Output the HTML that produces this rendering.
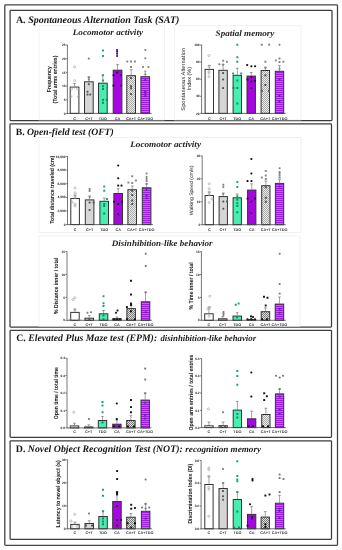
<!DOCTYPE html>
<html><head><meta charset="utf-8"><style>html,body{margin:0;padding:0;background:#fff;width:342px;height:550px;overflow:hidden}svg{display:block;will-change:transform;text-rendering:geometricPrecision}</style></head><body>
<svg width="342" height="550" viewBox="0 0 342 550">
<defs>
<pattern id="hatch" patternUnits="userSpaceOnUse" width="2" height="2">
<rect width="2" height="2" fill="#ececec"/><path d="M-0.5 -0.5L2.5 2.5M-0.5 1.5L0.5 2.5M1.5 -0.5L2.5 0.5" stroke="#7a7a7a" stroke-width="0.6"/></pattern>
<pattern id="hatch2" patternUnits="userSpaceOnUse" width="2" height="2">
<rect width="2" height="2" fill="#e0e0e0"/><path d="M-0.5 -0.5L2.5 2.5M-0.5 1.5L0.5 2.5M1.5 -0.5L2.5 0.5" stroke="#4a4a4a" stroke-width="0.7"/></pattern>
<pattern id="stripe" patternUnits="userSpaceOnUse" width="4" height="2">
<rect width="4" height="2" fill="#6e8ee0"/><rect width="4" height="1" fill="#a01ee2"/></pattern>
</defs>
<rect width="342" height="550" fill="#fff"/>
<rect x="4.8" y="4.9" width="332.7" height="540.4" rx="0.8" fill="none" stroke="#464646" stroke-width="1.3"/>
<rect x="10.1" y="10.3" width="321.90" height="110.30" rx="0.8" fill="none" stroke="#3c3c3c" stroke-width="1.25"/>
<rect x="10.0" y="123.9" width="321.50" height="203.20" rx="0.8" fill="none" stroke="#3c3c3c" stroke-width="1.25"/>
<rect x="10.1" y="330.3" width="321.40" height="107.00" rx="0.8" fill="none" stroke="#3c3c3c" stroke-width="1.25"/>
<rect x="10.1" y="440.8" width="321.40" height="98.50" rx="0.8" fill="none" stroke="#3c3c3c" stroke-width="1.25"/>
<rect x="39.1" y="25.8" width="125.40" height="94.20" fill="none" stroke="#e8e8e8" stroke-width="0.6"/>
<rect x="174.2" y="25.8" width="126.80" height="94.20" fill="none" stroke="#e8e8e8" stroke-width="0.6"/>
<rect x="39.0" y="137.3" width="262.00" height="95.20" fill="none" stroke="#e8e8e8" stroke-width="0.6"/>
<rect x="39.0" y="236.0" width="261.00" height="90.50" fill="none" stroke="#e8e8e8" stroke-width="0.6"/>
<text x="15.9" y="23.4" font-family='"Liberation Serif", serif' font-size="10" fill="#161616"><tspan font-weight="bold">A. </tspan><tspan font-weight="bold" font-style="italic">Spontaneous Alternation Task (SAT)</tspan></text>
<text x="15.8" y="134.6" font-family='"Liberation Serif", serif' font-size="9.7" fill="#161616"><tspan font-weight="bold">B. </tspan><tspan font-weight="bold" font-style="italic">Open-field test (OFT)</tspan></text>
<text x="16.2" y="341.3" font-family='"Liberation Serif", serif' font-size="9.8" fill="#161616"><tspan font-weight="bold">C. </tspan><tspan font-weight="bold" font-style="italic">Elevated Plus Maze test (EPM):</tspan></text>
<text x="160.40" y="341.30" font-size="8.8" font-family='"Liberation Serif", serif' font-weight="bold" font-style="italic" text-anchor="start" fill="#1c1c1c" textLength="95.70" lengthAdjust="spacingAndGlyphs" >disinhibition-like behavior</text>
<text x="15.8" y="451.7" font-family='"Liberation Serif", serif' font-size="9.85" fill="#161616"><tspan font-weight="bold">D. </tspan><tspan font-weight="bold" font-style="italic">Novel Object Recognition Test (NOT):</tspan></text>
<text x="185.30" y="451.70" font-size="8.9" font-family='"Liberation Serif", serif' font-weight="bold" font-style="italic" text-anchor="start" fill="#1c1c1c" textLength="75.70" lengthAdjust="spacingAndGlyphs" >recognition memory</text>
<text x="72.80" y="35.30" font-size="8.5" font-family='"Liberation Serif", serif' font-weight="bold" font-style="italic" text-anchor="start" fill="#242424" textLength="70.20" lengthAdjust="spacingAndGlyphs" >Locomotor activity</text>
<text x="215.60" y="35.60" font-size="8.5" font-family='"Liberation Serif", serif' font-weight="bold" font-style="italic" text-anchor="start" fill="#242424" textLength="58.80" lengthAdjust="spacingAndGlyphs" >Spatial memory</text>
<text x="130.20" y="147.30" font-size="8.5" font-family='"Liberation Serif", serif' font-weight="bold" font-style="italic" text-anchor="start" fill="#242424" textLength="70.80" lengthAdjust="spacingAndGlyphs" >Locomotor activity</text>
<text x="111.80" y="246.10" font-size="8.5" font-family='"Liberation Serif", serif' font-weight="bold" font-style="italic" text-anchor="start" fill="#242424" textLength="100.70" lengthAdjust="spacingAndGlyphs" >Disinhibition-like behavior</text>
<line x1="74.55" y1="86.60" x2="74.55" y2="83.50" stroke="#555" stroke-width="0.55"/>
<line x1="73.15" y1="83.50" x2="75.95" y2="83.50" stroke="#555" stroke-width="0.55"/>
<line x1="88.85" y1="81.30" x2="88.85" y2="77.00" stroke="#555" stroke-width="0.55"/>
<line x1="87.45" y1="77.00" x2="90.25" y2="77.00" stroke="#555" stroke-width="0.55"/>
<line x1="102.85" y1="82.70" x2="102.85" y2="75.50" stroke="#555" stroke-width="0.55"/>
<line x1="101.45" y1="75.50" x2="104.25" y2="75.50" stroke="#555" stroke-width="0.55"/>
<line x1="117.55" y1="69.70" x2="117.55" y2="64.60" stroke="#555" stroke-width="0.55"/>
<line x1="116.15" y1="64.60" x2="118.95" y2="64.60" stroke="#555" stroke-width="0.55"/>
<line x1="131.15" y1="75.20" x2="131.15" y2="69.70" stroke="#555" stroke-width="0.55"/>
<line x1="129.75" y1="69.70" x2="132.55" y2="69.70" stroke="#555" stroke-width="0.55"/>
<line x1="145.25" y1="76.20" x2="145.25" y2="71.00" stroke="#555" stroke-width="0.55"/>
<line x1="143.85" y1="71.00" x2="146.65" y2="71.00" stroke="#555" stroke-width="0.55"/>
<rect x="70.20" y="87.10" width="8.70" height="26.30" fill="#ffffff" stroke="#333333" stroke-width="1.0"/>
<text x="74.55" y="119.50" font-size="3.8" font-family='"Liberation Sans", sans-serif' font-weight="bold" font-style="normal" text-anchor="middle" fill="#333" >C</text>
<rect x="84.50" y="81.80" width="8.70" height="31.60" fill="#d6d6d6" stroke="#333333" stroke-width="1.0"/>
<text x="88.85" y="119.50" font-size="3.8" font-family='"Liberation Sans", sans-serif' font-weight="bold" font-style="normal" text-anchor="middle" fill="#333" >C+T</text>
<rect x="98.50" y="83.20" width="8.70" height="30.20" fill="#46eeb0" stroke="#333333" stroke-width="1.0"/>
<text x="102.85" y="119.50" font-size="3.8" font-family='"Liberation Sans", sans-serif' font-weight="bold" font-style="normal" text-anchor="middle" fill="#333" >TDO</text>
<rect x="113.20" y="70.20" width="8.70" height="43.20" fill="#a706e2" stroke="#333333" stroke-width="1.0"/>
<text x="117.55" y="119.50" font-size="3.8" font-family='"Liberation Sans", sans-serif' font-weight="bold" font-style="normal" text-anchor="middle" fill="#333" >CA</text>
<rect x="126.80" y="75.70" width="8.70" height="37.70" fill="url(#hatch)" stroke="#333333" stroke-width="1.0"/>
<text x="131.15" y="119.50" font-size="3.8" font-family='"Liberation Sans", sans-serif' font-weight="bold" font-style="normal" text-anchor="middle" fill="#333" >CA+T</text>
<rect x="140.90" y="76.70" width="8.70" height="36.70" fill="url(#stripe)" stroke="#333333" stroke-width="1.0"/>
<text x="145.25" y="119.50" font-size="3.8" font-family='"Liberation Sans", sans-serif' font-weight="bold" font-style="normal" text-anchor="middle" fill="#333" >CA+TDO</text>
<rect x="73.60" y="65.90" width="2.00" height="2.00" rx="0.8" fill="none" stroke="#a0a0a0" stroke-width="0.65"/>
<rect x="73.60" y="79.70" width="2.00" height="2.00" rx="0.8" fill="none" stroke="#a0a0a0" stroke-width="0.65"/>
<rect x="73.60" y="86.00" width="2.00" height="2.00" rx="0.8" fill="none" stroke="#a0a0a0" stroke-width="0.65"/>
<rect x="70.50" y="88.00" width="2.00" height="2.00" rx="0.8" fill="none" stroke="#a0a0a0" stroke-width="0.65"/>
<rect x="76.50" y="88.00" width="2.00" height="2.00" rx="0.8" fill="none" stroke="#a0a0a0" stroke-width="0.65"/>
<rect x="69.80" y="95.60" width="2.00" height="2.00" rx="0.8" fill="none" stroke="#a0a0a0" stroke-width="0.65"/>
<rect x="77.40" y="95.60" width="2.00" height="2.00" rx="0.8" fill="none" stroke="#a0a0a0" stroke-width="0.65"/>
<rect x="87.80" y="57.60" width="2.00" height="2.00" rx="0.7" fill="#808080"/>
<rect x="87.80" y="76.30" width="2.00" height="2.00" rx="0.7" fill="#808080"/>
<rect x="87.80" y="78.50" width="2.00" height="2.00" rx="0.7" fill="#808080"/>
<rect x="87.80" y="83.20" width="2.00" height="2.00" rx="0.7" fill="#555"/>
<rect x="86.50" y="90.80" width="2.00" height="2.00" rx="0.7" fill="#555"/>
<rect x="86.50" y="93.60" width="2.00" height="2.00" rx="0.7" fill="#555"/>
<rect x="89.20" y="93.60" width="2.00" height="2.00" rx="0.7" fill="#555"/>
<rect x="102.00" y="49.40" width="2.00" height="2.00" rx="0.3" fill="#17a578"/>
<rect x="102.00" y="54.90" width="2.00" height="2.00" rx="0.3" fill="#17a578"/>
<rect x="102.00" y="74.20" width="2.00" height="2.00" rx="0.3" fill="#17a578"/>
<rect x="102.00" y="79.50" width="2.00" height="2.00" rx="0.3" fill="#17a578"/>
<rect x="102.00" y="85.30" width="2.00" height="2.00" rx="0.3" fill="#128a62"/>
<rect x="102.00" y="88.00" width="2.00" height="2.00" rx="0.3" fill="#128a62"/>
<rect x="102.00" y="98.70" width="2.00" height="2.00" rx="0.3" fill="#128a62"/>
<rect x="105.70" y="98.70" width="2.00" height="2.00" rx="0.3" fill="#128a62"/>
<rect x="102.00" y="101.80" width="2.00" height="2.00" rx="0.3" fill="#128a62"/>
<rect x="116.10" y="48.90" width="2.00" height="2.00" rx="0.7" fill="#4a1478"/>
<rect x="116.10" y="50.70" width="2.00" height="2.00" rx="0.7" fill="#4a1478"/>
<rect x="116.10" y="52.80" width="2.00" height="2.00" rx="0.7" fill="#4a1478"/>
<rect x="116.10" y="54.90" width="2.00" height="2.00" rx="0.7" fill="#4a1478"/>
<rect x="116.10" y="71.50" width="2.00" height="2.00" rx="0.7" fill="#2a0848"/>
<rect x="112.50" y="74.20" width="2.00" height="2.00" rx="0.7" fill="#2a0848"/>
<rect x="120.00" y="74.20" width="2.00" height="2.00" rx="0.7" fill="#2a0848"/>
<rect x="112.50" y="84.60" width="2.00" height="2.00" rx="0.7" fill="#2a0848"/>
<rect x="120.00" y="84.60" width="2.00" height="2.00" rx="0.7" fill="#2a0848"/>
<rect x="126.30" y="60.40" width="2.00" height="2.00" rx="0.3" fill="#858585"/>
<rect x="130.00" y="60.40" width="2.00" height="2.00" rx="0.3" fill="#858585"/>
<rect x="133.90" y="60.40" width="2.00" height="2.00" rx="0.3" fill="#858585"/>
<rect x="130.00" y="65.90" width="2.00" height="2.00" rx="0.3" fill="#858585"/>
<rect x="130.00" y="77.00" width="2.00" height="2.00" rx="0.3" fill="#555"/>
<rect x="130.00" y="85.30" width="2.00" height="2.00" rx="0.3" fill="#555"/>
<rect x="130.00" y="87.30" width="2.00" height="2.00" rx="0.3" fill="#555"/>
<rect x="130.00" y="92.90" width="2.00" height="2.00" rx="0.3" fill="#555"/>
<rect x="144.30" y="48.90" width="2.00" height="2.00" rx="0.7" fill="#858585"/>
<rect x="144.30" y="57.20" width="2.00" height="2.00" rx="0.7" fill="#858585"/>
<rect x="142.00" y="65.90" width="2.00" height="2.00" rx="0.7" fill="#858585"/>
<rect x="147.50" y="65.90" width="2.00" height="2.00" rx="0.7" fill="#858585"/>
<rect x="144.30" y="73.30" width="2.00" height="2.00" rx="0.7" fill="#858585"/>
<rect x="144.30" y="79.00" width="2.00" height="2.00" rx="0.7" fill="#5a2a90"/>
<rect x="144.30" y="90.10" width="2.00" height="2.00" rx="0.7" fill="#5a2a90"/>
<rect x="144.30" y="92.20" width="2.00" height="2.00" rx="0.7" fill="#5a2a90"/>
<rect x="144.30" y="95.00" width="2.00" height="2.00" rx="0.7" fill="#5a2a90"/>
<line x1="67.40" y1="113.40" x2="151.60" y2="113.40" stroke="#444" stroke-width="0.8"/>
<line x1="67.40" y1="113.80" x2="67.40" y2="44.70" stroke="#555" stroke-width="0.8"/>
<line x1="65.80" y1="113.40" x2="67.40" y2="113.40" stroke="#333" stroke-width="0.6"/>
<text x="65.50" y="114.55" font-size="3.25" font-family='"Liberation Sans", sans-serif' font-weight="bold" font-style="normal" text-anchor="end" fill="#1a1a1a" >0</text>
<line x1="65.80" y1="99.72" x2="67.40" y2="99.72" stroke="#333" stroke-width="0.6"/>
<text x="65.50" y="100.87" font-size="3.25" font-family='"Liberation Sans", sans-serif' font-weight="bold" font-style="normal" text-anchor="end" fill="#1a1a1a" >5</text>
<line x1="65.80" y1="86.04" x2="67.40" y2="86.04" stroke="#333" stroke-width="0.6"/>
<text x="65.50" y="87.19" font-size="3.25" font-family='"Liberation Sans", sans-serif' font-weight="bold" font-style="normal" text-anchor="end" fill="#1a1a1a" >10</text>
<line x1="65.80" y1="72.36" x2="67.40" y2="72.36" stroke="#333" stroke-width="0.6"/>
<text x="65.50" y="73.51" font-size="3.25" font-family='"Liberation Sans", sans-serif' font-weight="bold" font-style="normal" text-anchor="end" fill="#1a1a1a" >15</text>
<line x1="65.80" y1="58.68" x2="67.40" y2="58.68" stroke="#333" stroke-width="0.6"/>
<text x="65.50" y="59.83" font-size="3.25" font-family='"Liberation Sans", sans-serif' font-weight="bold" font-style="normal" text-anchor="end" fill="#1a1a1a" >20</text>
<line x1="65.80" y1="45.00" x2="67.40" y2="45.00" stroke="#333" stroke-width="0.6"/>
<text x="65.50" y="46.15" font-size="3.25" font-family='"Liberation Sans", sans-serif' font-weight="bold" font-style="normal" text-anchor="end" fill="#1a1a1a" >25</text>
<text x="51.40" y="79.20" font-size="5.9" font-family='"Liberation Sans", sans-serif' font-weight="bold" font-style="normal" text-anchor="middle" fill="#151515" textLength="26.00" lengthAdjust="spacingAndGlyphs" transform="rotate(-90 51.40 79.20)" >Frequency</text>
<text x="57.20" y="79.50" font-size="5.9" font-family='"Liberation Sans", sans-serif' font-weight="bold" font-style="normal" text-anchor="middle" fill="#151515" textLength="47.80" lengthAdjust="spacingAndGlyphs" transform="rotate(-90 57.20 79.50)" >(Total arms entries)</text>
<line x1="209.30" y1="68.90" x2="209.30" y2="65.50" stroke="#555" stroke-width="0.55"/>
<line x1="207.90" y1="65.50" x2="210.70" y2="65.50" stroke="#555" stroke-width="0.55"/>
<line x1="223.10" y1="69.80" x2="223.10" y2="64.60" stroke="#555" stroke-width="0.55"/>
<line x1="221.70" y1="64.60" x2="224.50" y2="64.60" stroke="#555" stroke-width="0.55"/>
<line x1="237.30" y1="74.80" x2="237.30" y2="68.30" stroke="#555" stroke-width="0.55"/>
<line x1="235.90" y1="68.30" x2="238.70" y2="68.30" stroke="#555" stroke-width="0.55"/>
<line x1="251.20" y1="75.60" x2="251.20" y2="72.50" stroke="#555" stroke-width="0.55"/>
<line x1="249.80" y1="72.50" x2="252.60" y2="72.50" stroke="#555" stroke-width="0.55"/>
<line x1="265.30" y1="70.00" x2="265.30" y2="67.60" stroke="#555" stroke-width="0.55"/>
<line x1="263.90" y1="67.60" x2="266.70" y2="67.60" stroke="#555" stroke-width="0.55"/>
<line x1="279.50" y1="70.80" x2="279.50" y2="65.60" stroke="#555" stroke-width="0.55"/>
<line x1="278.10" y1="65.60" x2="280.90" y2="65.60" stroke="#555" stroke-width="0.55"/>
<rect x="205.10" y="69.40" width="8.40" height="44.00" fill="#ffffff" stroke="#333333" stroke-width="1.0"/>
<text x="209.30" y="119.50" font-size="3.8" font-family='"Liberation Sans", sans-serif' font-weight="bold" font-style="normal" text-anchor="middle" fill="#333" >C</text>
<rect x="218.90" y="70.30" width="8.40" height="43.10" fill="#d6d6d6" stroke="#333333" stroke-width="1.0"/>
<text x="223.10" y="119.50" font-size="3.8" font-family='"Liberation Sans", sans-serif' font-weight="bold" font-style="normal" text-anchor="middle" fill="#333" >C+T</text>
<rect x="233.10" y="75.30" width="8.40" height="38.10" fill="#46eeb0" stroke="#333333" stroke-width="1.0"/>
<text x="237.30" y="119.50" font-size="3.8" font-family='"Liberation Sans", sans-serif' font-weight="bold" font-style="normal" text-anchor="middle" fill="#333" >TDO</text>
<rect x="247.00" y="76.10" width="8.40" height="37.30" fill="#a706e2" stroke="#333333" stroke-width="1.0"/>
<text x="251.20" y="119.50" font-size="3.8" font-family='"Liberation Sans", sans-serif' font-weight="bold" font-style="normal" text-anchor="middle" fill="#333" >CA</text>
<rect x="261.10" y="70.50" width="8.40" height="42.90" fill="url(#hatch)" stroke="#333333" stroke-width="1.0"/>
<text x="265.30" y="119.50" font-size="3.8" font-family='"Liberation Sans", sans-serif' font-weight="bold" font-style="normal" text-anchor="middle" fill="#333" >CA+T</text>
<rect x="275.30" y="71.30" width="8.40" height="42.10" fill="url(#stripe)" stroke="#333333" stroke-width="1.0"/>
<text x="279.50" y="119.50" font-size="3.8" font-family='"Liberation Sans", sans-serif' font-weight="bold" font-style="normal" text-anchor="middle" fill="#333" >CA+TDO</text>
<rect x="208.00" y="54.50" width="2.00" height="2.00" rx="0.8" fill="none" stroke="#a0a0a0" stroke-width="0.65"/>
<rect x="208.00" y="65.20" width="2.00" height="2.00" rx="0.8" fill="none" stroke="#a0a0a0" stroke-width="0.65"/>
<rect x="208.00" y="70.10" width="2.00" height="2.00" rx="0.8" fill="none" stroke="#a0a0a0" stroke-width="0.65"/>
<rect x="208.00" y="72.10" width="2.00" height="2.00" rx="0.8" fill="none" stroke="#a0a0a0" stroke-width="0.65"/>
<rect x="208.00" y="75.60" width="2.00" height="2.00" rx="0.8" fill="none" stroke="#a0a0a0" stroke-width="0.65"/>
<rect x="218.30" y="63.20" width="2.00" height="2.00" rx="0.7" fill="#808080"/>
<rect x="222.10" y="59.70" width="2.00" height="2.00" rx="0.7" fill="#808080"/>
<rect x="225.90" y="60.80" width="2.00" height="2.00" rx="0.7" fill="#808080"/>
<rect x="222.10" y="63.60" width="2.00" height="2.00" rx="0.7" fill="#808080"/>
<rect x="222.10" y="72.10" width="2.00" height="2.00" rx="0.7" fill="#555"/>
<rect x="222.10" y="78.40" width="2.00" height="2.00" rx="0.7" fill="#555"/>
<rect x="222.10" y="87.10" width="2.00" height="2.00" rx="0.7" fill="#555"/>
<rect x="236.30" y="43.80" width="2.00" height="2.00" rx="0.3" fill="#17a578"/>
<rect x="236.30" y="56.30" width="2.00" height="2.00" rx="0.3" fill="#17a578"/>
<rect x="236.30" y="60.80" width="2.00" height="2.00" rx="0.3" fill="#17a578"/>
<rect x="232.10" y="72.40" width="2.00" height="2.00" rx="0.3" fill="#17a578"/>
<rect x="240.20" y="72.40" width="2.00" height="2.00" rx="0.3" fill="#17a578"/>
<rect x="236.30" y="79.50" width="2.00" height="2.00" rx="0.3" fill="#128a62"/>
<rect x="232.50" y="87.10" width="2.00" height="2.00" rx="0.3" fill="#128a62"/>
<rect x="236.30" y="87.10" width="2.00" height="2.00" rx="0.3" fill="#128a62"/>
<rect x="236.30" y="102.50" width="2.00" height="2.00" rx="0.3" fill="#128a62"/>
<rect x="246.20" y="63.90" width="2.00" height="2.00" rx="0.7" fill="#151515"/>
<rect x="250.40" y="65.20" width="2.00" height="2.00" rx="0.7" fill="#151515"/>
<rect x="254.10" y="65.20" width="2.00" height="2.00" rx="0.7" fill="#151515"/>
<rect x="246.50" y="78.40" width="2.00" height="2.00" rx="0.7" fill="#151515"/>
<rect x="250.40" y="76.30" width="2.00" height="2.00" rx="0.7" fill="#151515"/>
<rect x="254.10" y="79.70" width="2.00" height="2.00" rx="0.7" fill="#151515"/>
<rect x="250.40" y="80.40" width="2.00" height="2.00" rx="0.7" fill="#151515"/>
<rect x="250.40" y="87.10" width="2.00" height="2.00" rx="0.7" fill="#151515"/>
<rect x="260.80" y="43.80" width="2.00" height="2.00" rx="0.3" fill="#858585"/>
<rect x="268.20" y="43.80" width="2.00" height="2.00" rx="0.3" fill="#858585"/>
<rect x="264.40" y="60.80" width="2.00" height="2.00" rx="0.3" fill="#858585"/>
<rect x="264.40" y="66.60" width="2.00" height="2.00" rx="0.3" fill="#858585"/>
<rect x="264.40" y="74.20" width="2.00" height="2.00" rx="0.3" fill="#555"/>
<rect x="264.40" y="83.90" width="2.00" height="2.00" rx="0.3" fill="#555"/>
<rect x="260.80" y="89.80" width="2.00" height="2.00" rx="0.3" fill="#555"/>
<rect x="268.00" y="89.80" width="2.00" height="2.00" rx="0.3" fill="#555"/>
<rect x="278.50" y="43.80" width="2.00" height="2.00" rx="0.7" fill="#858585"/>
<rect x="274.80" y="59.40" width="2.00" height="2.00" rx="0.7" fill="#858585"/>
<rect x="278.50" y="57.60" width="2.00" height="2.00" rx="0.7" fill="#858585"/>
<rect x="278.50" y="61.10" width="2.00" height="2.00" rx="0.7" fill="#858585"/>
<rect x="282.40" y="60.80" width="2.00" height="2.00" rx="0.7" fill="#858585"/>
<rect x="278.50" y="68.00" width="2.00" height="2.00" rx="0.7" fill="#858585"/>
<rect x="278.50" y="78.40" width="2.00" height="2.00" rx="0.7" fill="#5a2a90"/>
<rect x="278.50" y="94.90" width="2.00" height="2.00" rx="0.7" fill="#5a2a90"/>
<rect x="278.50" y="100.50" width="2.00" height="2.00" rx="0.7" fill="#5a2a90"/>
<line x1="201.60" y1="113.40" x2="285.70" y2="113.40" stroke="#444" stroke-width="0.8"/>
<line x1="201.60" y1="113.80" x2="201.60" y2="44.70" stroke="#555" stroke-width="0.8"/>
<line x1="200.00" y1="113.40" x2="201.60" y2="113.40" stroke="#333" stroke-width="0.6"/>
<text x="199.70" y="114.55" font-size="3.25" font-family='"Liberation Sans", sans-serif' font-weight="bold" font-style="normal" text-anchor="end" fill="#1a1a1a" >20</text>
<line x1="200.00" y1="96.30" x2="201.60" y2="96.30" stroke="#333" stroke-width="0.6"/>
<text x="199.70" y="97.45" font-size="3.25" font-family='"Liberation Sans", sans-serif' font-weight="bold" font-style="normal" text-anchor="end" fill="#1a1a1a" >40</text>
<line x1="200.00" y1="79.20" x2="201.60" y2="79.20" stroke="#333" stroke-width="0.6"/>
<text x="199.70" y="80.35" font-size="3.25" font-family='"Liberation Sans", sans-serif' font-weight="bold" font-style="normal" text-anchor="end" fill="#1a1a1a" >60</text>
<line x1="200.00" y1="62.10" x2="201.60" y2="62.10" stroke="#333" stroke-width="0.6"/>
<text x="199.70" y="63.25" font-size="3.25" font-family='"Liberation Sans", sans-serif' font-weight="bold" font-style="normal" text-anchor="end" fill="#1a1a1a" >80</text>
<line x1="200.00" y1="45.00" x2="201.60" y2="45.00" stroke="#333" stroke-width="0.6"/>
<text x="199.70" y="46.15" font-size="3.25" font-family='"Liberation Sans", sans-serif' font-weight="bold" font-style="normal" text-anchor="end" fill="#1a1a1a" >100</text>
<text x="185.20" y="79.30" font-size="5.4" font-family='"Liberation Sans", sans-serif' font-weight="normal" font-style="normal" text-anchor="middle" fill="#222" textLength="62.80" lengthAdjust="spacingAndGlyphs" transform="rotate(-90 185.20 79.30)" >Spontaneous Alternation</text>
<text x="191.50" y="78.70" font-size="5.4" font-family='"Liberation Sans", sans-serif' font-weight="normal" font-style="normal" text-anchor="middle" fill="#222" textLength="23.50" lengthAdjust="spacingAndGlyphs" transform="rotate(-90 191.50 78.70)" >Index (%)</text>
<line x1="75.10" y1="198.00" x2="75.10" y2="195.60" stroke="#555" stroke-width="0.55"/>
<line x1="73.70" y1="195.60" x2="76.50" y2="195.60" stroke="#555" stroke-width="0.55"/>
<line x1="89.60" y1="199.40" x2="89.60" y2="196.00" stroke="#555" stroke-width="0.55"/>
<line x1="88.20" y1="196.00" x2="91.00" y2="196.00" stroke="#555" stroke-width="0.55"/>
<line x1="104.20" y1="200.80" x2="104.20" y2="198.00" stroke="#555" stroke-width="0.55"/>
<line x1="102.80" y1="198.00" x2="105.60" y2="198.00" stroke="#555" stroke-width="0.55"/>
<line x1="118.20" y1="193.00" x2="118.20" y2="188.70" stroke="#555" stroke-width="0.55"/>
<line x1="116.80" y1="188.70" x2="119.60" y2="188.70" stroke="#555" stroke-width="0.55"/>
<line x1="132.20" y1="189.20" x2="132.20" y2="186.00" stroke="#555" stroke-width="0.55"/>
<line x1="130.80" y1="186.00" x2="133.60" y2="186.00" stroke="#555" stroke-width="0.55"/>
<line x1="146.60" y1="187.30" x2="146.60" y2="184.00" stroke="#555" stroke-width="0.55"/>
<line x1="145.20" y1="184.00" x2="148.00" y2="184.00" stroke="#555" stroke-width="0.55"/>
<rect x="70.80" y="198.50" width="8.60" height="26.10" fill="#ffffff" stroke="#333333" stroke-width="1.0"/>
<text x="75.10" y="230.50" font-size="3.8" font-family='"Liberation Sans", sans-serif' font-weight="bold" font-style="normal" text-anchor="middle" fill="#333" >C</text>
<rect x="85.30" y="199.90" width="8.60" height="24.70" fill="#d6d6d6" stroke="#333333" stroke-width="1.0"/>
<text x="89.60" y="230.50" font-size="3.8" font-family='"Liberation Sans", sans-serif' font-weight="bold" font-style="normal" text-anchor="middle" fill="#333" >C+T</text>
<rect x="99.90" y="201.30" width="8.60" height="23.30" fill="#46eeb0" stroke="#333333" stroke-width="1.0"/>
<text x="104.20" y="230.50" font-size="3.8" font-family='"Liberation Sans", sans-serif' font-weight="bold" font-style="normal" text-anchor="middle" fill="#333" >TDO</text>
<rect x="113.90" y="193.50" width="8.60" height="31.10" fill="#a706e2" stroke="#333333" stroke-width="1.0"/>
<text x="118.20" y="230.50" font-size="3.8" font-family='"Liberation Sans", sans-serif' font-weight="bold" font-style="normal" text-anchor="middle" fill="#333" >CA</text>
<rect x="127.90" y="189.70" width="8.60" height="34.90" fill="url(#hatch)" stroke="#333333" stroke-width="1.0"/>
<text x="132.20" y="230.50" font-size="3.8" font-family='"Liberation Sans", sans-serif' font-weight="bold" font-style="normal" text-anchor="middle" fill="#333" >CA+T</text>
<rect x="142.30" y="187.80" width="8.60" height="36.80" fill="url(#stripe)" stroke="#333333" stroke-width="1.0"/>
<text x="146.60" y="230.50" font-size="3.8" font-family='"Liberation Sans", sans-serif' font-weight="bold" font-style="normal" text-anchor="middle" fill="#333" >CA+TDO</text>
<rect x="74.10" y="187.00" width="2.00" height="2.00" rx="0.8" fill="none" stroke="#a0a0a0" stroke-width="0.65"/>
<rect x="74.10" y="191.80" width="2.00" height="2.00" rx="0.8" fill="none" stroke="#a0a0a0" stroke-width="0.65"/>
<rect x="74.10" y="193.90" width="2.00" height="2.00" rx="0.8" fill="none" stroke="#a0a0a0" stroke-width="0.65"/>
<rect x="74.10" y="196.70" width="2.00" height="2.00" rx="0.8" fill="none" stroke="#a0a0a0" stroke-width="0.65"/>
<rect x="71.00" y="201.20" width="2.00" height="2.00" rx="0.8" fill="none" stroke="#a0a0a0" stroke-width="0.65"/>
<rect x="74.10" y="203.10" width="2.00" height="2.00" rx="0.8" fill="none" stroke="#a0a0a0" stroke-width="0.65"/>
<rect x="74.10" y="204.90" width="2.00" height="2.00" rx="0.8" fill="none" stroke="#a0a0a0" stroke-width="0.65"/>
<rect x="88.60" y="188.00" width="2.00" height="2.00" rx="0.7" fill="#808080"/>
<rect x="88.60" y="190.00" width="2.00" height="2.00" rx="0.7" fill="#808080"/>
<rect x="88.60" y="196.00" width="2.00" height="2.00" rx="0.7" fill="#808080"/>
<rect x="88.60" y="201.50" width="2.00" height="2.00" rx="0.7" fill="#555"/>
<rect x="92.60" y="201.50" width="2.00" height="2.00" rx="0.7" fill="#555"/>
<rect x="88.60" y="209.00" width="2.00" height="2.00" rx="0.7" fill="#555"/>
<rect x="103.20" y="185.60" width="2.00" height="2.00" rx="0.3" fill="#17a578"/>
<rect x="103.20" y="189.70" width="2.00" height="2.00" rx="0.3" fill="#17a578"/>
<rect x="106.00" y="198.00" width="2.00" height="2.00" rx="0.3" fill="#17a578"/>
<rect x="103.20" y="202.90" width="2.00" height="2.00" rx="0.3" fill="#128a62"/>
<rect x="103.20" y="204.90" width="2.00" height="2.00" rx="0.3" fill="#128a62"/>
<rect x="103.20" y="212.50" width="2.00" height="2.00" rx="0.3" fill="#128a62"/>
<rect x="117.20" y="164.50" width="2.00" height="2.00" rx="0.7" fill="#151515"/>
<rect x="117.20" y="177.30" width="2.00" height="2.00" rx="0.7" fill="#151515"/>
<rect x="117.20" y="184.60" width="2.00" height="2.00" rx="0.7" fill="#151515"/>
<rect x="120.50" y="184.60" width="2.00" height="2.00" rx="0.7" fill="#151515"/>
<rect x="113.00" y="200.80" width="2.00" height="2.00" rx="0.7" fill="#151515"/>
<rect x="120.80" y="200.80" width="2.00" height="2.00" rx="0.7" fill="#151515"/>
<rect x="117.20" y="202.90" width="2.00" height="2.00" rx="0.7" fill="#151515"/>
<rect x="117.20" y="213.20" width="2.00" height="2.00" rx="0.7" fill="#151515"/>
<rect x="131.20" y="175.20" width="2.00" height="2.00" rx="0.3" fill="#8a8a8a"/>
<rect x="127.40" y="181.50" width="2.00" height="2.00" rx="0.3" fill="#8a8a8a"/>
<rect x="131.20" y="182.10" width="2.00" height="2.00" rx="0.3" fill="#8a8a8a"/>
<rect x="134.90" y="179.40" width="2.00" height="2.00" rx="0.3" fill="#8a8a8a"/>
<rect x="131.20" y="189.70" width="2.00" height="2.00" rx="0.3" fill="#555"/>
<rect x="131.20" y="193.90" width="2.00" height="2.00" rx="0.3" fill="#555"/>
<rect x="131.20" y="199.40" width="2.00" height="2.00" rx="0.3" fill="#555"/>
<rect x="131.20" y="203.10" width="2.00" height="2.00" rx="0.3" fill="#555"/>
<rect x="145.60" y="172.50" width="2.00" height="2.00" rx="0.7" fill="#858585"/>
<rect x="145.60" y="175.90" width="2.00" height="2.00" rx="0.7" fill="#858585"/>
<rect x="145.60" y="178.00" width="2.00" height="2.00" rx="0.7" fill="#858585"/>
<rect x="145.60" y="180.10" width="2.00" height="2.00" rx="0.7" fill="#858585"/>
<rect x="145.60" y="182.80" width="2.00" height="2.00" rx="0.7" fill="#858585"/>
<rect x="145.60" y="189.00" width="2.00" height="2.00" rx="0.7" fill="#5a2a90"/>
<rect x="145.60" y="193.90" width="2.00" height="2.00" rx="0.7" fill="#5a2a90"/>
<rect x="145.60" y="197.30" width="2.00" height="2.00" rx="0.7" fill="#5a2a90"/>
<line x1="67.50" y1="224.60" x2="152.90" y2="224.60" stroke="#444" stroke-width="0.8"/>
<line x1="67.50" y1="225.00" x2="67.50" y2="156.10" stroke="#555" stroke-width="0.8"/>
<line x1="65.90" y1="224.60" x2="67.50" y2="224.60" stroke="#333" stroke-width="0.6"/>
<text x="65.60" y="225.75" font-size="3.25" font-family='"Liberation Sans", sans-serif' font-weight="bold" font-style="normal" text-anchor="end" fill="#1a1a1a" >0</text>
<line x1="65.90" y1="210.96" x2="67.50" y2="210.96" stroke="#333" stroke-width="0.6"/>
<text x="65.60" y="212.11" font-size="3.25" font-family='"Liberation Sans", sans-serif' font-weight="bold" font-style="normal" text-anchor="end" fill="#1a1a1a" >2,000</text>
<line x1="65.90" y1="197.32" x2="67.50" y2="197.32" stroke="#333" stroke-width="0.6"/>
<text x="65.60" y="198.47" font-size="3.25" font-family='"Liberation Sans", sans-serif' font-weight="bold" font-style="normal" text-anchor="end" fill="#1a1a1a" >4,000</text>
<line x1="65.90" y1="183.68" x2="67.50" y2="183.68" stroke="#333" stroke-width="0.6"/>
<text x="65.60" y="184.83" font-size="3.25" font-family='"Liberation Sans", sans-serif' font-weight="bold" font-style="normal" text-anchor="end" fill="#1a1a1a" >6,000</text>
<line x1="65.90" y1="170.04" x2="67.50" y2="170.04" stroke="#333" stroke-width="0.6"/>
<text x="65.60" y="171.19" font-size="3.25" font-family='"Liberation Sans", sans-serif' font-weight="bold" font-style="normal" text-anchor="end" fill="#1a1a1a" >8,000</text>
<line x1="65.90" y1="156.40" x2="67.50" y2="156.40" stroke="#333" stroke-width="0.6"/>
<text x="65.60" y="157.55" font-size="3.25" font-family='"Liberation Sans", sans-serif' font-weight="bold" font-style="normal" text-anchor="end" fill="#1a1a1a" >10,000</text>
<text x="53.80" y="189.70" font-size="5.8" font-family='"Liberation Sans", sans-serif' font-weight="bold" font-style="normal" text-anchor="middle" fill="#151515" textLength="68.00" lengthAdjust="spacingAndGlyphs" transform="rotate(-90 53.80 189.70)" >Total distance traveled (cm)</text>
<line x1="209.25" y1="195.00" x2="209.25" y2="192.00" stroke="#555" stroke-width="0.55"/>
<line x1="207.85" y1="192.00" x2="210.65" y2="192.00" stroke="#555" stroke-width="0.55"/>
<line x1="223.25" y1="196.10" x2="223.25" y2="193.00" stroke="#555" stroke-width="0.55"/>
<line x1="221.85" y1="193.00" x2="224.65" y2="193.00" stroke="#555" stroke-width="0.55"/>
<line x1="237.25" y1="197.30" x2="237.25" y2="194.00" stroke="#555" stroke-width="0.55"/>
<line x1="235.85" y1="194.00" x2="238.65" y2="194.00" stroke="#555" stroke-width="0.55"/>
<line x1="251.75" y1="189.60" x2="251.75" y2="183.80" stroke="#555" stroke-width="0.55"/>
<line x1="250.35" y1="183.80" x2="253.15" y2="183.80" stroke="#555" stroke-width="0.55"/>
<line x1="265.85" y1="185.20" x2="265.85" y2="181.00" stroke="#555" stroke-width="0.55"/>
<line x1="264.45" y1="181.00" x2="267.25" y2="181.00" stroke="#555" stroke-width="0.55"/>
<line x1="279.55" y1="182.90" x2="279.55" y2="179.70" stroke="#555" stroke-width="0.55"/>
<line x1="278.15" y1="179.70" x2="280.95" y2="179.70" stroke="#555" stroke-width="0.55"/>
<rect x="205.10" y="195.50" width="8.30" height="29.20" fill="#ffffff" stroke="#333333" stroke-width="1.0"/>
<text x="209.25" y="230.50" font-size="3.8" font-family='"Liberation Sans", sans-serif' font-weight="bold" font-style="normal" text-anchor="middle" fill="#333" >C</text>
<rect x="219.10" y="196.60" width="8.30" height="28.10" fill="#d6d6d6" stroke="#333333" stroke-width="1.0"/>
<text x="223.25" y="230.50" font-size="3.8" font-family='"Liberation Sans", sans-serif' font-weight="bold" font-style="normal" text-anchor="middle" fill="#333" >C+T</text>
<rect x="233.10" y="197.80" width="8.30" height="26.90" fill="#46eeb0" stroke="#333333" stroke-width="1.0"/>
<text x="237.25" y="230.50" font-size="3.8" font-family='"Liberation Sans", sans-serif' font-weight="bold" font-style="normal" text-anchor="middle" fill="#333" >TDO</text>
<rect x="247.60" y="190.10" width="8.30" height="34.60" fill="#a706e2" stroke="#333333" stroke-width="1.0"/>
<text x="251.75" y="230.50" font-size="3.8" font-family='"Liberation Sans", sans-serif' font-weight="bold" font-style="normal" text-anchor="middle" fill="#333" >CA</text>
<rect x="261.70" y="185.70" width="8.30" height="39.00" fill="url(#hatch)" stroke="#333333" stroke-width="1.0"/>
<text x="265.85" y="230.50" font-size="3.8" font-family='"Liberation Sans", sans-serif' font-weight="bold" font-style="normal" text-anchor="middle" fill="#333" >CA+T</text>
<rect x="275.40" y="183.40" width="8.30" height="41.30" fill="url(#stripe)" stroke="#333333" stroke-width="1.0"/>
<text x="279.55" y="230.50" font-size="3.8" font-family='"Liberation Sans", sans-serif' font-weight="bold" font-style="normal" text-anchor="middle" fill="#333" >CA+TDO</text>
<rect x="208.20" y="182.80" width="2.00" height="2.00" rx="0.8" fill="none" stroke="#a0a0a0" stroke-width="0.65"/>
<rect x="208.20" y="187.70" width="2.00" height="2.00" rx="0.8" fill="none" stroke="#a0a0a0" stroke-width="0.65"/>
<rect x="208.20" y="191.10" width="2.00" height="2.00" rx="0.8" fill="none" stroke="#a0a0a0" stroke-width="0.65"/>
<rect x="208.20" y="193.90" width="2.00" height="2.00" rx="0.8" fill="none" stroke="#a0a0a0" stroke-width="0.65"/>
<rect x="211.00" y="198.00" width="2.00" height="2.00" rx="0.8" fill="none" stroke="#a0a0a0" stroke-width="0.65"/>
<rect x="208.20" y="201.50" width="2.00" height="2.00" rx="0.8" fill="none" stroke="#a0a0a0" stroke-width="0.65"/>
<rect x="222.30" y="183.80" width="2.00" height="2.00" rx="0.7" fill="#808080"/>
<rect x="222.30" y="186.00" width="2.00" height="2.00" rx="0.7" fill="#808080"/>
<rect x="222.30" y="192.90" width="2.00" height="2.00" rx="0.7" fill="#808080"/>
<rect x="222.30" y="200.40" width="2.00" height="2.00" rx="0.7" fill="#555"/>
<rect x="226.00" y="200.40" width="2.00" height="2.00" rx="0.7" fill="#555"/>
<rect x="222.30" y="207.70" width="2.00" height="2.00" rx="0.7" fill="#555"/>
<rect x="236.30" y="181.00" width="2.00" height="2.00" rx="0.3" fill="#17a578"/>
<rect x="236.30" y="186.00" width="2.00" height="2.00" rx="0.3" fill="#17a578"/>
<rect x="236.30" y="195.30" width="2.00" height="2.00" rx="0.3" fill="#17a578"/>
<rect x="236.30" y="198.70" width="2.00" height="2.00" rx="0.3" fill="#128a62"/>
<rect x="236.30" y="202.20" width="2.00" height="2.00" rx="0.3" fill="#128a62"/>
<rect x="236.30" y="204.90" width="2.00" height="2.00" rx="0.3" fill="#128a62"/>
<rect x="236.30" y="211.20" width="2.00" height="2.00" rx="0.3" fill="#128a62"/>
<rect x="250.40" y="158.00" width="2.00" height="2.00" rx="0.7" fill="#151515"/>
<rect x="250.40" y="172.50" width="2.00" height="2.00" rx="0.7" fill="#151515"/>
<rect x="246.50" y="180.10" width="2.00" height="2.00" rx="0.7" fill="#151515"/>
<rect x="250.40" y="180.10" width="2.00" height="2.00" rx="0.7" fill="#151515"/>
<rect x="246.50" y="197.60" width="2.00" height="2.00" rx="0.7" fill="#151515"/>
<rect x="254.00" y="197.60" width="2.00" height="2.00" rx="0.7" fill="#151515"/>
<rect x="250.40" y="200.80" width="2.00" height="2.00" rx="0.7" fill="#151515"/>
<rect x="250.40" y="212.30" width="2.00" height="2.00" rx="0.7" fill="#151515"/>
<rect x="264.80" y="170.00" width="2.00" height="2.00" rx="0.3" fill="#8a8a8a"/>
<rect x="264.80" y="174.60" width="2.00" height="2.00" rx="0.3" fill="#8a8a8a"/>
<rect x="260.80" y="176.60" width="2.00" height="2.00" rx="0.3" fill="#8a8a8a"/>
<rect x="264.80" y="178.00" width="2.00" height="2.00" rx="0.3" fill="#8a8a8a"/>
<rect x="264.80" y="186.30" width="2.00" height="2.00" rx="0.3" fill="#555"/>
<rect x="264.80" y="196.70" width="2.00" height="2.00" rx="0.3" fill="#555"/>
<rect x="264.80" y="200.80" width="2.00" height="2.00" rx="0.3" fill="#555"/>
<rect x="278.60" y="167.20" width="2.00" height="2.00" rx="0.7" fill="#858585"/>
<rect x="278.60" y="171.10" width="2.00" height="2.00" rx="0.7" fill="#858585"/>
<rect x="278.60" y="172.80" width="2.00" height="2.00" rx="0.7" fill="#858585"/>
<rect x="278.60" y="174.60" width="2.00" height="2.00" rx="0.7" fill="#858585"/>
<rect x="278.60" y="176.60" width="2.00" height="2.00" rx="0.7" fill="#858585"/>
<rect x="278.60" y="185.60" width="2.00" height="2.00" rx="0.7" fill="#5a2a90"/>
<line x1="202.20" y1="224.70" x2="285.70" y2="224.70" stroke="#444" stroke-width="0.8"/>
<line x1="202.20" y1="225.10" x2="202.20" y2="155.60" stroke="#555" stroke-width="0.8"/>
<line x1="200.60" y1="224.70" x2="202.20" y2="224.70" stroke="#333" stroke-width="0.6"/>
<text x="200.30" y="225.85" font-size="3.25" font-family='"Liberation Sans", sans-serif' font-weight="bold" font-style="normal" text-anchor="end" fill="#1a1a1a" >0</text>
<line x1="200.60" y1="201.77" x2="202.20" y2="201.77" stroke="#333" stroke-width="0.6"/>
<text x="200.30" y="202.92" font-size="3.25" font-family='"Liberation Sans", sans-serif' font-weight="bold" font-style="normal" text-anchor="end" fill="#1a1a1a" >10</text>
<line x1="200.60" y1="178.83" x2="202.20" y2="178.83" stroke="#333" stroke-width="0.6"/>
<text x="200.30" y="179.98" font-size="3.25" font-family='"Liberation Sans", sans-serif' font-weight="bold" font-style="normal" text-anchor="end" fill="#1a1a1a" >20</text>
<line x1="200.60" y1="155.90" x2="202.20" y2="155.90" stroke="#333" stroke-width="0.6"/>
<text x="200.30" y="157.05" font-size="3.25" font-family='"Liberation Sans", sans-serif' font-weight="bold" font-style="normal" text-anchor="end" fill="#1a1a1a" >30</text>
<text x="193.30" y="190.40" font-size="5.0" font-family='"Liberation Sans", sans-serif' font-weight="normal" font-style="normal" text-anchor="middle" fill="#222" textLength="49.60" lengthAdjust="spacingAndGlyphs" transform="rotate(-90 193.30 190.40)" >Walking Speed (cm/s)</text>
<line x1="74.95" y1="311.90" x2="74.95" y2="309.00" stroke="#555" stroke-width="0.55"/>
<line x1="73.55" y1="309.00" x2="76.35" y2="309.00" stroke="#555" stroke-width="0.55"/>
<line x1="89.25" y1="317.70" x2="89.25" y2="315.60" stroke="#555" stroke-width="0.55"/>
<line x1="87.85" y1="315.60" x2="90.65" y2="315.60" stroke="#555" stroke-width="0.55"/>
<line x1="103.55" y1="313.30" x2="103.55" y2="310.50" stroke="#555" stroke-width="0.55"/>
<line x1="102.15" y1="310.50" x2="104.95" y2="310.50" stroke="#555" stroke-width="0.55"/>
<line x1="116.95" y1="318.20" x2="116.95" y2="317.00" stroke="#555" stroke-width="0.55"/>
<line x1="115.55" y1="317.00" x2="118.35" y2="317.00" stroke="#555" stroke-width="0.55"/>
<line x1="131.15" y1="308.10" x2="131.15" y2="305.00" stroke="#555" stroke-width="0.55"/>
<line x1="129.75" y1="305.00" x2="132.55" y2="305.00" stroke="#555" stroke-width="0.55"/>
<line x1="145.55" y1="301.30" x2="145.55" y2="292.30" stroke="#555" stroke-width="0.55"/>
<line x1="144.15" y1="292.30" x2="146.95" y2="292.30" stroke="#555" stroke-width="0.55"/>
<rect x="70.70" y="312.40" width="8.50" height="7.90" fill="#ffffff" stroke="#333333" stroke-width="1.0"/>
<text x="74.95" y="325.70" font-size="3.8" font-family='"Liberation Sans", sans-serif' font-weight="bold" font-style="normal" text-anchor="middle" fill="#333" >C</text>
<rect x="85.00" y="318.20" width="8.50" height="2.10" fill="#d6d6d6" stroke="#333333" stroke-width="1.0"/>
<text x="89.25" y="325.70" font-size="3.8" font-family='"Liberation Sans", sans-serif' font-weight="bold" font-style="normal" text-anchor="middle" fill="#333" >C+T</text>
<rect x="99.30" y="313.80" width="8.50" height="6.50" fill="#46eeb0" stroke="#333333" stroke-width="1.0"/>
<text x="103.55" y="325.70" font-size="3.8" font-family='"Liberation Sans", sans-serif' font-weight="bold" font-style="normal" text-anchor="middle" fill="#333" >TDO</text>
<rect x="112.70" y="318.70" width="8.50" height="1.60" fill="#a706e2" stroke="#333333" stroke-width="1.0"/>
<text x="116.95" y="325.70" font-size="3.8" font-family='"Liberation Sans", sans-serif' font-weight="bold" font-style="normal" text-anchor="middle" fill="#333" >CA</text>
<rect x="126.90" y="308.60" width="8.50" height="11.70" fill="url(#hatch2)" stroke="#333333" stroke-width="1.0"/>
<text x="131.15" y="325.70" font-size="3.8" font-family='"Liberation Sans", sans-serif' font-weight="bold" font-style="normal" text-anchor="middle" fill="#333" >CA+T</text>
<rect x="141.30" y="301.80" width="8.50" height="18.50" fill="url(#stripe)" stroke="#333333" stroke-width="1.0"/>
<text x="145.55" y="325.70" font-size="3.8" font-family='"Liberation Sans", sans-serif' font-weight="bold" font-style="normal" text-anchor="middle" fill="#333" >CA+TDO</text>
<rect x="72.00" y="298.60" width="2.00" height="2.00" rx="0.8" fill="none" stroke="#a0a0a0" stroke-width="0.65"/>
<rect x="73.70" y="296.70" width="2.00" height="2.00" rx="0.8" fill="none" stroke="#a0a0a0" stroke-width="0.65"/>
<rect x="73.70" y="308.80" width="2.00" height="2.00" rx="0.8" fill="none" stroke="#a0a0a0" stroke-width="0.65"/>
<rect x="69.50" y="318.60" width="2.00" height="2.00" rx="0.8" fill="none" stroke="#a0a0a0" stroke-width="0.65"/>
<rect x="78.00" y="318.60" width="2.00" height="2.00" rx="0.8" fill="none" stroke="#a0a0a0" stroke-width="0.65"/>
<rect x="86.50" y="311.70" width="2.00" height="2.00" rx="0.7" fill="#808080"/>
<rect x="90.00" y="311.20" width="2.00" height="2.00" rx="0.7" fill="#808080"/>
<rect x="88.30" y="318.30" width="2.00" height="2.00" rx="0.7" fill="#555"/>
<rect x="102.50" y="295.20" width="2.00" height="2.00" rx="0.3" fill="#17a578"/>
<rect x="102.50" y="302.20" width="2.00" height="2.00" rx="0.3" fill="#17a578"/>
<rect x="102.50" y="305.10" width="2.00" height="2.00" rx="0.3" fill="#17a578"/>
<rect x="102.50" y="314.60" width="2.00" height="2.00" rx="0.3" fill="#128a62"/>
<rect x="102.50" y="318.20" width="2.00" height="2.00" rx="0.3" fill="#128a62"/>
<rect x="116.50" y="309.50" width="2.00" height="2.00" rx="0.7" fill="#151515"/>
<rect x="115.00" y="311.70" width="2.00" height="2.00" rx="0.7" fill="#151515"/>
<rect x="113.00" y="318.30" width="2.00" height="2.00" rx="0.7" fill="#151515"/>
<rect x="116.00" y="318.30" width="2.00" height="2.00" rx="0.7" fill="#151515"/>
<rect x="119.00" y="318.30" width="2.00" height="2.00" rx="0.7" fill="#151515"/>
<rect x="130.00" y="279.70" width="2.00" height="2.00" rx="0.3" fill="#1a1a1a"/>
<rect x="130.00" y="293.50" width="2.00" height="2.00" rx="0.3" fill="#1a1a1a"/>
<rect x="130.00" y="302.50" width="2.00" height="2.00" rx="0.3" fill="#1a1a1a"/>
<rect x="130.00" y="304.00" width="2.00" height="2.00" rx="0.3" fill="#1a1a1a"/>
<rect x="125.90" y="305.90" width="2.00" height="2.00" rx="0.3" fill="#1a1a1a"/>
<rect x="130.00" y="310.20" width="2.00" height="2.00" rx="0.3" fill="#111"/>
<rect x="126.00" y="318.30" width="2.00" height="2.00" rx="0.3" fill="#111"/>
<rect x="134.00" y="318.30" width="2.00" height="2.00" rx="0.3" fill="#111"/>
<rect x="144.70" y="252.70" width="2.00" height="2.00" rx="0.7" fill="#7a7a7a"/>
<rect x="144.70" y="265.10" width="2.00" height="2.00" rx="0.7" fill="#7a7a7a"/>
<rect x="144.70" y="291.30" width="2.00" height="2.00" rx="0.7" fill="#7a7a7a"/>
<rect x="144.70" y="311.20" width="2.00" height="2.00" rx="0.7" fill="#5a2a90"/>
<line x1="67.00" y1="320.30" x2="151.80" y2="320.30" stroke="#444" stroke-width="0.8"/>
<line x1="67.00" y1="320.70" x2="67.00" y2="251.20" stroke="#555" stroke-width="0.8"/>
<line x1="65.40" y1="320.30" x2="67.00" y2="320.30" stroke="#333" stroke-width="0.6"/>
<text x="65.10" y="321.45" font-size="3.25" font-family='"Liberation Sans", sans-serif' font-weight="bold" font-style="normal" text-anchor="end" fill="#1a1a1a" >0</text>
<line x1="65.40" y1="297.37" x2="67.00" y2="297.37" stroke="#333" stroke-width="0.6"/>
<text x="65.10" y="298.52" font-size="3.25" font-family='"Liberation Sans", sans-serif' font-weight="bold" font-style="normal" text-anchor="end" fill="#1a1a1a" >5</text>
<line x1="65.40" y1="274.43" x2="67.00" y2="274.43" stroke="#333" stroke-width="0.6"/>
<text x="65.10" y="275.58" font-size="3.25" font-family='"Liberation Sans", sans-serif' font-weight="bold" font-style="normal" text-anchor="end" fill="#1a1a1a" >10</text>
<line x1="65.40" y1="251.50" x2="67.00" y2="251.50" stroke="#333" stroke-width="0.6"/>
<text x="65.10" y="252.65" font-size="3.25" font-family='"Liberation Sans", sans-serif' font-weight="bold" font-style="normal" text-anchor="end" fill="#1a1a1a" >15</text>
<text x="57.60" y="285.80" font-size="5.9" font-family='"Liberation Sans", sans-serif' font-weight="bold" font-style="normal" text-anchor="middle" fill="#151515" textLength="56.40" lengthAdjust="spacingAndGlyphs" transform="rotate(-90 57.60 285.80)" >% Distance inner / total</text>
<line x1="208.95" y1="313.30" x2="208.95" y2="306.90" stroke="#555" stroke-width="0.55"/>
<line x1="207.55" y1="306.90" x2="210.35" y2="306.90" stroke="#555" stroke-width="0.55"/>
<line x1="222.75" y1="318.30" x2="222.75" y2="316.50" stroke="#555" stroke-width="0.55"/>
<line x1="221.35" y1="316.50" x2="224.15" y2="316.50" stroke="#555" stroke-width="0.55"/>
<line x1="237.25" y1="315.60" x2="237.25" y2="312.70" stroke="#555" stroke-width="0.55"/>
<line x1="235.85" y1="312.70" x2="238.65" y2="312.70" stroke="#555" stroke-width="0.55"/>
<line x1="251.45" y1="319.00" x2="251.45" y2="318.00" stroke="#555" stroke-width="0.55"/>
<line x1="250.05" y1="318.00" x2="252.85" y2="318.00" stroke="#555" stroke-width="0.55"/>
<line x1="265.45" y1="311.20" x2="265.45" y2="307.90" stroke="#555" stroke-width="0.55"/>
<line x1="264.05" y1="307.90" x2="266.85" y2="307.90" stroke="#555" stroke-width="0.55"/>
<line x1="279.45" y1="303.60" x2="279.45" y2="297.00" stroke="#555" stroke-width="0.55"/>
<line x1="278.05" y1="297.00" x2="280.85" y2="297.00" stroke="#555" stroke-width="0.55"/>
<rect x="204.70" y="313.80" width="8.50" height="6.50" fill="#ffffff" stroke="#333333" stroke-width="1.0"/>
<text x="208.95" y="325.70" font-size="3.8" font-family='"Liberation Sans", sans-serif' font-weight="bold" font-style="normal" text-anchor="middle" fill="#333" >C</text>
<rect x="218.50" y="318.80" width="8.50" height="1.50" fill="#d6d6d6" stroke="#333333" stroke-width="1.0"/>
<text x="222.75" y="325.70" font-size="3.8" font-family='"Liberation Sans", sans-serif' font-weight="bold" font-style="normal" text-anchor="middle" fill="#333" >C+T</text>
<rect x="233.00" y="316.10" width="8.50" height="4.20" fill="#46eeb0" stroke="#333333" stroke-width="1.0"/>
<text x="237.25" y="325.70" font-size="3.8" font-family='"Liberation Sans", sans-serif' font-weight="bold" font-style="normal" text-anchor="middle" fill="#333" >TDO</text>
<rect x="247.20" y="319.50" width="8.50" height="0.80" fill="#a706e2" stroke="#333333" stroke-width="1.0"/>
<text x="251.45" y="325.70" font-size="3.8" font-family='"Liberation Sans", sans-serif' font-weight="bold" font-style="normal" text-anchor="middle" fill="#333" >CA</text>
<rect x="261.20" y="311.70" width="8.50" height="8.60" fill="url(#hatch2)" stroke="#333333" stroke-width="1.0"/>
<text x="265.45" y="325.70" font-size="3.8" font-family='"Liberation Sans", sans-serif' font-weight="bold" font-style="normal" text-anchor="middle" fill="#333" >CA+T</text>
<rect x="275.20" y="304.10" width="8.50" height="16.20" fill="url(#stripe)" stroke="#333333" stroke-width="1.0"/>
<text x="279.45" y="325.70" font-size="3.8" font-family='"Liberation Sans", sans-serif' font-weight="bold" font-style="normal" text-anchor="middle" fill="#333" >CA+TDO</text>
<rect x="208.80" y="295.20" width="2.00" height="2.00" rx="0.8" fill="none" stroke="#a0a0a0" stroke-width="0.65"/>
<rect x="208.80" y="306.60" width="2.00" height="2.00" rx="0.8" fill="none" stroke="#a0a0a0" stroke-width="0.65"/>
<rect x="207.00" y="308.00" width="2.00" height="2.00" rx="0.8" fill="none" stroke="#a0a0a0" stroke-width="0.65"/>
<rect x="208.00" y="315.30" width="2.00" height="2.00" rx="0.8" fill="none" stroke="#a0a0a0" stroke-width="0.65"/>
<rect x="222.50" y="311.00" width="2.00" height="2.00" rx="0.7" fill="#808080"/>
<rect x="222.50" y="312.40" width="2.00" height="2.00" rx="0.7" fill="#808080"/>
<rect x="222.50" y="313.90" width="2.00" height="2.00" rx="0.7" fill="#808080"/>
<rect x="234.70" y="303.70" width="2.00" height="2.00" rx="0.3" fill="#17a578"/>
<rect x="237.60" y="302.50" width="2.00" height="2.00" rx="0.3" fill="#17a578"/>
<rect x="236.00" y="316.30" width="2.00" height="2.00" rx="0.3" fill="#128a62"/>
<rect x="250.00" y="315.30" width="2.00" height="2.00" rx="0.7" fill="#151515"/>
<rect x="252.00" y="316.00" width="2.00" height="2.00" rx="0.7" fill="#151515"/>
<rect x="246.50" y="318.30" width="2.00" height="2.00" rx="0.7" fill="#151515"/>
<rect x="250.00" y="318.30" width="2.00" height="2.00" rx="0.7" fill="#151515"/>
<rect x="254.00" y="318.30" width="2.00" height="2.00" rx="0.7" fill="#151515"/>
<rect x="263.00" y="295.70" width="2.00" height="2.00" rx="0.3" fill="#1a1a1a"/>
<rect x="266.50" y="296.70" width="2.00" height="2.00" rx="0.3" fill="#1a1a1a"/>
<rect x="264.70" y="304.40" width="2.00" height="2.00" rx="0.3" fill="#1a1a1a"/>
<rect x="261.00" y="318.30" width="2.00" height="2.00" rx="0.3" fill="#111"/>
<rect x="266.00" y="318.30" width="2.00" height="2.00" rx="0.3" fill="#111"/>
<rect x="278.70" y="252.70" width="2.00" height="2.00" rx="0.7" fill="#7a7a7a"/>
<rect x="278.70" y="283.00" width="2.00" height="2.00" rx="0.7" fill="#7a7a7a"/>
<rect x="278.70" y="292.50" width="2.00" height="2.00" rx="0.7" fill="#7a7a7a"/>
<rect x="278.70" y="308.00" width="2.00" height="2.00" rx="0.7" fill="#5a2a90"/>
<rect x="278.70" y="311.70" width="2.00" height="2.00" rx="0.7" fill="#5a2a90"/>
<line x1="201.40" y1="320.30" x2="285.70" y2="320.30" stroke="#444" stroke-width="0.8"/>
<line x1="201.40" y1="320.70" x2="201.40" y2="251.40" stroke="#555" stroke-width="0.8"/>
<line x1="199.80" y1="320.30" x2="201.40" y2="320.30" stroke="#333" stroke-width="0.6"/>
<text x="199.50" y="321.45" font-size="3.25" font-family='"Liberation Sans", sans-serif' font-weight="bold" font-style="normal" text-anchor="end" fill="#1a1a1a" >0</text>
<line x1="199.80" y1="297.43" x2="201.40" y2="297.43" stroke="#333" stroke-width="0.6"/>
<text x="199.50" y="298.58" font-size="3.25" font-family='"Liberation Sans", sans-serif' font-weight="bold" font-style="normal" text-anchor="end" fill="#1a1a1a" >5</text>
<line x1="199.80" y1="274.57" x2="201.40" y2="274.57" stroke="#333" stroke-width="0.6"/>
<text x="199.50" y="275.72" font-size="3.25" font-family='"Liberation Sans", sans-serif' font-weight="bold" font-style="normal" text-anchor="end" fill="#1a1a1a" >10</text>
<line x1="199.80" y1="251.70" x2="201.40" y2="251.70" stroke="#333" stroke-width="0.6"/>
<text x="199.50" y="252.85" font-size="3.25" font-family='"Liberation Sans", sans-serif' font-weight="bold" font-style="normal" text-anchor="end" fill="#1a1a1a" >15</text>
<text x="193.00" y="285.90" font-size="5.9" font-family='"Liberation Sans", sans-serif' font-weight="bold" font-style="normal" text-anchor="middle" fill="#151515" textLength="47.00" lengthAdjust="spacingAndGlyphs" transform="rotate(-90 193.00 285.90)" >% Time inner / total</text>
<line x1="74.50" y1="425.40" x2="74.50" y2="423.20" stroke="#555" stroke-width="0.55"/>
<line x1="73.10" y1="423.20" x2="75.90" y2="423.20" stroke="#555" stroke-width="0.55"/>
<line x1="88.70" y1="426.50" x2="88.70" y2="424.80" stroke="#555" stroke-width="0.55"/>
<line x1="87.30" y1="424.80" x2="90.10" y2="424.80" stroke="#555" stroke-width="0.55"/>
<line x1="102.50" y1="420.00" x2="102.50" y2="416.40" stroke="#555" stroke-width="0.55"/>
<line x1="101.10" y1="416.40" x2="103.90" y2="416.40" stroke="#555" stroke-width="0.55"/>
<line x1="116.90" y1="423.70" x2="116.90" y2="420.00" stroke="#555" stroke-width="0.55"/>
<line x1="115.50" y1="420.00" x2="118.30" y2="420.00" stroke="#555" stroke-width="0.55"/>
<line x1="130.90" y1="420.00" x2="130.90" y2="415.70" stroke="#555" stroke-width="0.55"/>
<line x1="129.50" y1="415.70" x2="132.30" y2="415.70" stroke="#555" stroke-width="0.55"/>
<line x1="145.20" y1="399.60" x2="145.20" y2="393.00" stroke="#555" stroke-width="0.55"/>
<line x1="143.80" y1="393.00" x2="146.60" y2="393.00" stroke="#555" stroke-width="0.55"/>
<rect x="70.30" y="425.90" width="8.40" height="2.00" fill="#ffffff" stroke="#333333" stroke-width="1.0"/>
<text x="74.50" y="433.30" font-size="3.8" font-family='"Liberation Sans", sans-serif' font-weight="bold" font-style="normal" text-anchor="middle" fill="#333" >C</text>
<rect x="84.50" y="427.00" width="8.40" height="0.90" fill="#d6d6d6" stroke="#333333" stroke-width="1.0"/>
<text x="88.70" y="433.30" font-size="3.8" font-family='"Liberation Sans", sans-serif' font-weight="bold" font-style="normal" text-anchor="middle" fill="#333" >C+T</text>
<rect x="98.30" y="420.50" width="8.40" height="7.40" fill="#46eeb0" stroke="#333333" stroke-width="1.0"/>
<text x="102.50" y="433.30" font-size="3.8" font-family='"Liberation Sans", sans-serif' font-weight="bold" font-style="normal" text-anchor="middle" fill="#333" >TDO</text>
<rect x="112.70" y="424.20" width="8.40" height="3.70" fill="#a706e2" stroke="#333333" stroke-width="1.0"/>
<text x="116.90" y="433.30" font-size="3.8" font-family='"Liberation Sans", sans-serif' font-weight="bold" font-style="normal" text-anchor="middle" fill="#333" >CA</text>
<rect x="126.70" y="420.50" width="8.40" height="7.40" fill="url(#hatch2)" stroke="#333333" stroke-width="1.0"/>
<text x="130.90" y="433.30" font-size="3.8" font-family='"Liberation Sans", sans-serif' font-weight="bold" font-style="normal" text-anchor="middle" fill="#333" >CA+T</text>
<rect x="141.00" y="400.10" width="8.40" height="27.80" fill="url(#stripe)" stroke="#333333" stroke-width="1.0"/>
<text x="145.20" y="433.30" font-size="3.8" font-family='"Liberation Sans", sans-serif' font-weight="bold" font-style="normal" text-anchor="middle" fill="#333" >CA+TDO</text>
<rect x="72.80" y="411.30" width="2.00" height="2.00" rx="0.8" fill="none" stroke="#a0a0a0" stroke-width="0.65"/>
<rect x="71.00" y="425.30" width="2.00" height="2.00" rx="0.8" fill="none" stroke="#a0a0a0" stroke-width="0.65"/>
<rect x="75.00" y="425.30" width="2.00" height="2.00" rx="0.8" fill="none" stroke="#a0a0a0" stroke-width="0.65"/>
<rect x="87.90" y="418.10" width="2.00" height="2.00" rx="0.7" fill="#808080"/>
<rect x="85.00" y="425.80" width="2.00" height="2.00" rx="0.7" fill="#808080"/>
<rect x="90.00" y="425.80" width="2.00" height="2.00" rx="0.7" fill="#808080"/>
<rect x="101.50" y="401.10" width="2.00" height="2.00" rx="0.3" fill="#17a578"/>
<rect x="101.50" y="404.50" width="2.00" height="2.00" rx="0.3" fill="#17a578"/>
<rect x="101.50" y="411.30" width="2.00" height="2.00" rx="0.3" fill="#17a578"/>
<rect x="101.50" y="421.50" width="2.00" height="2.00" rx="0.3" fill="#128a62"/>
<rect x="115.80" y="402.40" width="2.00" height="2.00" rx="0.7" fill="#151515"/>
<rect x="115.80" y="418.10" width="2.00" height="2.00" rx="0.7" fill="#151515"/>
<rect x="113.00" y="425.50" width="2.00" height="2.00" rx="0.7" fill="#151515"/>
<rect x="118.00" y="425.50" width="2.00" height="2.00" rx="0.7" fill="#151515"/>
<rect x="130.00" y="399.00" width="2.00" height="2.00" rx="0.3" fill="#1a1a1a"/>
<rect x="130.00" y="406.10" width="2.00" height="2.00" rx="0.3" fill="#1a1a1a"/>
<rect x="130.00" y="411.30" width="2.00" height="2.00" rx="0.3" fill="#1a1a1a"/>
<rect x="127.00" y="425.50" width="2.00" height="2.00" rx="0.3" fill="#111"/>
<rect x="133.00" y="425.50" width="2.00" height="2.00" rx="0.3" fill="#111"/>
<rect x="144.20" y="367.60" width="2.00" height="2.00" rx="0.7" fill="#7a7a7a"/>
<rect x="144.20" y="378.60" width="2.00" height="2.00" rx="0.7" fill="#7a7a7a"/>
<rect x="144.20" y="392.20" width="2.00" height="2.00" rx="0.7" fill="#7a7a7a"/>
<rect x="144.20" y="401.70" width="2.00" height="2.00" rx="0.7" fill="#5a2a90"/>
<rect x="144.20" y="414.00" width="2.00" height="2.00" rx="0.7" fill="#5a2a90"/>
<rect x="144.20" y="417.40" width="2.00" height="2.00" rx="0.7" fill="#5a2a90"/>
<line x1="67.00" y1="427.90" x2="151.40" y2="427.90" stroke="#444" stroke-width="0.8"/>
<line x1="67.00" y1="428.30" x2="67.00" y2="357.90" stroke="#555" stroke-width="0.8"/>
<line x1="65.40" y1="427.90" x2="67.00" y2="427.90" stroke="#333" stroke-width="0.6"/>
<text x="65.10" y="429.05" font-size="3.25" font-family='"Liberation Sans", sans-serif' font-weight="bold" font-style="normal" text-anchor="end" fill="#1a1a1a" >0.0</text>
<line x1="65.40" y1="410.47" x2="67.00" y2="410.47" stroke="#333" stroke-width="0.6"/>
<text x="65.10" y="411.62" font-size="3.25" font-family='"Liberation Sans", sans-serif' font-weight="bold" font-style="normal" text-anchor="end" fill="#1a1a1a" >0.1</text>
<line x1="65.40" y1="393.05" x2="67.00" y2="393.05" stroke="#333" stroke-width="0.6"/>
<text x="65.10" y="394.20" font-size="3.25" font-family='"Liberation Sans", sans-serif' font-weight="bold" font-style="normal" text-anchor="end" fill="#1a1a1a" >0.2</text>
<line x1="65.40" y1="375.62" x2="67.00" y2="375.62" stroke="#333" stroke-width="0.6"/>
<text x="65.10" y="376.77" font-size="3.25" font-family='"Liberation Sans", sans-serif' font-weight="bold" font-style="normal" text-anchor="end" fill="#1a1a1a" >0.3</text>
<line x1="65.40" y1="358.20" x2="67.00" y2="358.20" stroke="#333" stroke-width="0.6"/>
<text x="65.10" y="359.35" font-size="3.25" font-family='"Liberation Sans", sans-serif' font-weight="bold" font-style="normal" text-anchor="end" fill="#1a1a1a" >0.4</text>
<text x="57.60" y="393.15" font-size="5.9" font-family='"Liberation Sans", sans-serif' font-weight="bold" font-style="normal" text-anchor="middle" fill="#151515" textLength="52.10" lengthAdjust="spacingAndGlyphs" transform="rotate(-90 57.60 393.15)" >Open time / total time</text>
<line x1="208.95" y1="425.20" x2="208.95" y2="422.10" stroke="#555" stroke-width="0.55"/>
<line x1="207.55" y1="422.10" x2="210.35" y2="422.10" stroke="#555" stroke-width="0.55"/>
<line x1="223.15" y1="425.20" x2="223.15" y2="422.00" stroke="#555" stroke-width="0.55"/>
<line x1="221.75" y1="422.00" x2="224.55" y2="422.00" stroke="#555" stroke-width="0.55"/>
<line x1="237.35" y1="409.60" x2="237.35" y2="401.40" stroke="#555" stroke-width="0.55"/>
<line x1="235.95" y1="401.40" x2="238.75" y2="401.40" stroke="#555" stroke-width="0.55"/>
<line x1="251.65" y1="418.30" x2="251.65" y2="411.20" stroke="#555" stroke-width="0.55"/>
<line x1="250.25" y1="411.20" x2="253.05" y2="411.20" stroke="#555" stroke-width="0.55"/>
<line x1="265.85" y1="414.00" x2="265.85" y2="408.20" stroke="#555" stroke-width="0.55"/>
<line x1="264.45" y1="408.20" x2="267.25" y2="408.20" stroke="#555" stroke-width="0.55"/>
<line x1="279.55" y1="393.40" x2="279.55" y2="389.00" stroke="#555" stroke-width="0.55"/>
<line x1="278.15" y1="389.00" x2="280.95" y2="389.00" stroke="#555" stroke-width="0.55"/>
<rect x="204.80" y="425.70" width="8.30" height="1.90" fill="#ffffff" stroke="#333333" stroke-width="1.0"/>
<text x="208.95" y="433.30" font-size="3.8" font-family='"Liberation Sans", sans-serif' font-weight="bold" font-style="normal" text-anchor="middle" fill="#333" >C</text>
<rect x="219.00" y="425.70" width="8.30" height="1.90" fill="#d6d6d6" stroke="#333333" stroke-width="1.0"/>
<text x="223.15" y="433.30" font-size="3.8" font-family='"Liberation Sans", sans-serif' font-weight="bold" font-style="normal" text-anchor="middle" fill="#333" >C+T</text>
<rect x="233.20" y="410.10" width="8.30" height="17.50" fill="#46eeb0" stroke="#333333" stroke-width="1.0"/>
<text x="237.35" y="433.30" font-size="3.8" font-family='"Liberation Sans", sans-serif' font-weight="bold" font-style="normal" text-anchor="middle" fill="#333" >TDO</text>
<rect x="247.50" y="418.80" width="8.30" height="8.80" fill="#a706e2" stroke="#333333" stroke-width="1.0"/>
<text x="251.65" y="433.30" font-size="3.8" font-family='"Liberation Sans", sans-serif' font-weight="bold" font-style="normal" text-anchor="middle" fill="#333" >CA</text>
<rect x="261.70" y="414.50" width="8.30" height="13.10" fill="url(#hatch)" stroke="#333333" stroke-width="1.0"/>
<text x="265.85" y="433.30" font-size="3.8" font-family='"Liberation Sans", sans-serif' font-weight="bold" font-style="normal" text-anchor="middle" fill="#333" >CA+T</text>
<rect x="275.40" y="393.90" width="8.30" height="33.70" fill="url(#stripe)" stroke="#333333" stroke-width="1.0"/>
<text x="279.55" y="433.30" font-size="3.8" font-family='"Liberation Sans", sans-serif' font-weight="bold" font-style="normal" text-anchor="middle" fill="#333" >CA+TDO</text>
<rect x="207.50" y="407.90" width="2.00" height="2.00" rx="0.8" fill="none" stroke="#a0a0a0" stroke-width="0.65"/>
<rect x="205.00" y="425.20" width="2.00" height="2.00" rx="0.8" fill="none" stroke="#a0a0a0" stroke-width="0.65"/>
<rect x="210.00" y="425.20" width="2.00" height="2.00" rx="0.8" fill="none" stroke="#a0a0a0" stroke-width="0.65"/>
<rect x="222.00" y="411.30" width="2.00" height="2.00" rx="0.7" fill="#808080"/>
<rect x="220.00" y="425.20" width="2.00" height="2.00" rx="0.7" fill="#555"/>
<rect x="224.00" y="425.20" width="2.00" height="2.00" rx="0.7" fill="#555"/>
<rect x="236.30" y="370.10" width="2.00" height="2.00" rx="0.3" fill="#17a578"/>
<rect x="236.30" y="375.10" width="2.00" height="2.00" rx="0.3" fill="#17a578"/>
<rect x="236.30" y="383.70" width="2.00" height="2.00" rx="0.3" fill="#17a578"/>
<rect x="236.30" y="412.90" width="2.00" height="2.00" rx="0.3" fill="#128a62"/>
<rect x="236.30" y="416.50" width="2.00" height="2.00" rx="0.3" fill="#128a62"/>
<rect x="250.30" y="371.50" width="2.00" height="2.00" rx="0.7" fill="#151515"/>
<rect x="250.30" y="395.60" width="2.00" height="2.00" rx="0.7" fill="#151515"/>
<rect x="248.00" y="425.30" width="2.00" height="2.00" rx="0.7" fill="#151515"/>
<rect x="252.00" y="425.30" width="2.00" height="2.00" rx="0.7" fill="#151515"/>
<rect x="263.20" y="392.20" width="2.00" height="2.00" rx="0.3" fill="#1a1a1a"/>
<rect x="265.80" y="395.20" width="2.00" height="2.00" rx="0.3" fill="#1a1a1a"/>
<rect x="263.20" y="399.00" width="2.00" height="2.00" rx="0.3" fill="#1a1a1a"/>
<rect x="262.00" y="425.30" width="2.00" height="2.00" rx="0.3" fill="#111"/>
<rect x="267.00" y="425.30" width="2.00" height="2.00" rx="0.3" fill="#111"/>
<rect x="275.00" y="374.70" width="2.00" height="2.00" rx="0.7" fill="#7a7a7a"/>
<rect x="278.70" y="376.50" width="2.00" height="2.00" rx="0.7" fill="#7a7a7a"/>
<rect x="282.00" y="374.70" width="2.00" height="2.00" rx="0.7" fill="#7a7a7a"/>
<rect x="278.70" y="388.10" width="2.00" height="2.00" rx="0.7" fill="#7a7a7a"/>
<rect x="278.70" y="395.60" width="2.00" height="2.00" rx="0.7" fill="#5a2a90"/>
<rect x="278.70" y="408.60" width="2.00" height="2.00" rx="0.7" fill="#5a2a90"/>
<rect x="278.70" y="412.70" width="2.00" height="2.00" rx="0.7" fill="#5a2a90"/>
<line x1="201.60" y1="427.60" x2="285.70" y2="427.60" stroke="#444" stroke-width="0.8"/>
<line x1="201.60" y1="428.00" x2="201.60" y2="358.30" stroke="#555" stroke-width="0.8"/>
<line x1="200.00" y1="427.60" x2="201.60" y2="427.60" stroke="#333" stroke-width="0.6"/>
<text x="199.70" y="428.75" font-size="3.25" font-family='"Liberation Sans", sans-serif' font-weight="bold" font-style="normal" text-anchor="end" fill="#1a1a1a" >0.0</text>
<line x1="200.00" y1="410.35" x2="201.60" y2="410.35" stroke="#333" stroke-width="0.6"/>
<text x="199.70" y="411.50" font-size="3.25" font-family='"Liberation Sans", sans-serif' font-weight="bold" font-style="normal" text-anchor="end" fill="#1a1a1a" >0.1</text>
<line x1="200.00" y1="393.10" x2="201.60" y2="393.10" stroke="#333" stroke-width="0.6"/>
<text x="199.70" y="394.25" font-size="3.25" font-family='"Liberation Sans", sans-serif' font-weight="bold" font-style="normal" text-anchor="end" fill="#1a1a1a" >0.2</text>
<line x1="200.00" y1="375.85" x2="201.60" y2="375.85" stroke="#333" stroke-width="0.6"/>
<text x="199.70" y="377.00" font-size="3.25" font-family='"Liberation Sans", sans-serif' font-weight="bold" font-style="normal" text-anchor="end" fill="#1a1a1a" >0.3</text>
<line x1="200.00" y1="358.60" x2="201.60" y2="358.60" stroke="#333" stroke-width="0.6"/>
<text x="199.70" y="359.75" font-size="3.25" font-family='"Liberation Sans", sans-serif' font-weight="bold" font-style="normal" text-anchor="end" fill="#1a1a1a" >0.4</text>
<text x="193.20" y="392.50" font-size="5.9" font-family='"Liberation Sans", sans-serif' font-weight="bold" font-style="normal" text-anchor="middle" fill="#151515" textLength="75.80" lengthAdjust="spacingAndGlyphs" transform="rotate(-90 193.20 392.50)" >Open arm entries / total entries</text>
<line x1="74.95" y1="523.90" x2="74.95" y2="522.10" stroke="#555" stroke-width="0.55"/>
<line x1="73.55" y1="522.10" x2="76.35" y2="522.10" stroke="#555" stroke-width="0.55"/>
<line x1="89.25" y1="523.00" x2="89.25" y2="520.70" stroke="#555" stroke-width="0.55"/>
<line x1="87.85" y1="520.70" x2="90.65" y2="520.70" stroke="#555" stroke-width="0.55"/>
<line x1="103.05" y1="516.00" x2="103.05" y2="511.00" stroke="#555" stroke-width="0.55"/>
<line x1="101.65" y1="511.00" x2="104.45" y2="511.00" stroke="#555" stroke-width="0.55"/>
<line x1="116.95" y1="501.00" x2="116.95" y2="492.00" stroke="#555" stroke-width="0.55"/>
<line x1="115.55" y1="492.00" x2="118.35" y2="492.00" stroke="#555" stroke-width="0.55"/>
<line x1="130.95" y1="516.70" x2="130.95" y2="513.50" stroke="#555" stroke-width="0.55"/>
<line x1="129.55" y1="513.50" x2="132.35" y2="513.50" stroke="#555" stroke-width="0.55"/>
<line x1="145.65" y1="510.80" x2="145.65" y2="504.00" stroke="#555" stroke-width="0.55"/>
<line x1="144.25" y1="504.00" x2="147.05" y2="504.00" stroke="#555" stroke-width="0.55"/>
<rect x="70.70" y="524.40" width="8.50" height="4.40" fill="#ffffff" stroke="#333333" stroke-width="1.0"/>
<text x="74.95" y="534.30" font-size="3.8" font-family='"Liberation Sans", sans-serif' font-weight="bold" font-style="normal" text-anchor="middle" fill="#333" >C</text>
<rect x="85.00" y="523.50" width="8.50" height="5.30" fill="#d6d6d6" stroke="#333333" stroke-width="1.0"/>
<text x="89.25" y="534.30" font-size="3.8" font-family='"Liberation Sans", sans-serif' font-weight="bold" font-style="normal" text-anchor="middle" fill="#333" >C+T</text>
<rect x="98.80" y="516.50" width="8.50" height="12.30" fill="#46eeb0" stroke="#333333" stroke-width="1.0"/>
<text x="103.05" y="534.30" font-size="3.8" font-family='"Liberation Sans", sans-serif' font-weight="bold" font-style="normal" text-anchor="middle" fill="#333" >TDO</text>
<rect x="112.70" y="501.50" width="8.50" height="27.30" fill="#a706e2" stroke="#333333" stroke-width="1.0"/>
<text x="116.95" y="534.30" font-size="3.8" font-family='"Liberation Sans", sans-serif' font-weight="bold" font-style="normal" text-anchor="middle" fill="#333" >CA</text>
<rect x="126.70" y="517.20" width="8.50" height="11.60" fill="url(#hatch2)" stroke="#333333" stroke-width="1.0"/>
<text x="130.95" y="534.30" font-size="3.8" font-family='"Liberation Sans", sans-serif' font-weight="bold" font-style="normal" text-anchor="middle" fill="#333" >CA+T</text>
<rect x="141.40" y="511.30" width="8.50" height="17.50" fill="url(#stripe)" stroke="#333333" stroke-width="1.0"/>
<text x="145.65" y="534.30" font-size="3.8" font-family='"Liberation Sans", sans-serif' font-weight="bold" font-style="normal" text-anchor="middle" fill="#333" >CA+TDO</text>
<rect x="73.70" y="513.40" width="2.00" height="2.00" rx="0.8" fill="none" stroke="#a0a0a0" stroke-width="0.65"/>
<rect x="69.90" y="520.00" width="2.00" height="2.00" rx="0.8" fill="none" stroke="#a0a0a0" stroke-width="0.65"/>
<rect x="71.00" y="525.30" width="2.00" height="2.00" rx="0.8" fill="none" stroke="#a0a0a0" stroke-width="0.65"/>
<rect x="76.00" y="525.30" width="2.00" height="2.00" rx="0.8" fill="none" stroke="#a0a0a0" stroke-width="0.65"/>
<rect x="88.00" y="512.50" width="2.00" height="2.00" rx="0.7" fill="#808080"/>
<rect x="85.00" y="524.60" width="2.00" height="2.00" rx="0.7" fill="#555"/>
<rect x="91.00" y="524.60" width="2.00" height="2.00" rx="0.7" fill="#555"/>
<rect x="102.00" y="488.70" width="2.00" height="2.00" rx="0.3" fill="#17a578"/>
<rect x="102.00" y="494.80" width="2.00" height="2.00" rx="0.3" fill="#17a578"/>
<rect x="102.00" y="510.20" width="2.00" height="2.00" rx="0.3" fill="#17a578"/>
<rect x="102.00" y="517.60" width="2.00" height="2.00" rx="0.3" fill="#128a62"/>
<rect x="102.00" y="520.40" width="2.00" height="2.00" rx="0.3" fill="#128a62"/>
<rect x="102.00" y="523.20" width="2.00" height="2.00" rx="0.3" fill="#128a62"/>
<rect x="116.10" y="470.10" width="2.00" height="2.00" rx="0.7" fill="#151515"/>
<rect x="116.10" y="478.10" width="2.00" height="2.00" rx="0.7" fill="#151515"/>
<rect x="116.10" y="491.10" width="2.00" height="2.00" rx="0.7" fill="#151515"/>
<rect x="116.10" y="492.20" width="2.00" height="2.00" rx="0.7" fill="#151515"/>
<rect x="116.10" y="493.40" width="2.00" height="2.00" rx="0.7" fill="#151515"/>
<rect x="116.10" y="505.00" width="2.00" height="2.00" rx="0.7" fill="#151515"/>
<rect x="116.10" y="519.00" width="2.00" height="2.00" rx="0.7" fill="#151515"/>
<rect x="120.00" y="519.00" width="2.00" height="2.00" rx="0.7" fill="#151515"/>
<rect x="116.10" y="524.60" width="2.00" height="2.00" rx="0.7" fill="#151515"/>
<rect x="130.20" y="503.70" width="2.00" height="2.00" rx="0.3" fill="#1a1a1a"/>
<rect x="130.20" y="507.80" width="2.00" height="2.00" rx="0.3" fill="#1a1a1a"/>
<rect x="133.90" y="506.90" width="2.00" height="2.00" rx="0.3" fill="#1a1a1a"/>
<rect x="126.50" y="522.30" width="2.00" height="2.00" rx="0.3" fill="#111"/>
<rect x="134.00" y="522.30" width="2.00" height="2.00" rx="0.3" fill="#111"/>
<rect x="130.20" y="526.40" width="2.00" height="2.00" rx="0.3" fill="#111"/>
<rect x="144.60" y="478.50" width="2.00" height="2.00" rx="0.7" fill="#7a7a7a"/>
<rect x="144.60" y="502.70" width="2.00" height="2.00" rx="0.7" fill="#7a7a7a"/>
<rect x="141.00" y="506.40" width="2.00" height="2.00" rx="0.7" fill="#7a7a7a"/>
<rect x="144.60" y="507.40" width="2.00" height="2.00" rx="0.7" fill="#7a7a7a"/>
<rect x="148.20" y="506.40" width="2.00" height="2.00" rx="0.7" fill="#7a7a7a"/>
<rect x="144.60" y="517.60" width="2.00" height="2.00" rx="0.7" fill="#5a2a90"/>
<line x1="67.40" y1="528.80" x2="151.90" y2="528.80" stroke="#444" stroke-width="0.8"/>
<line x1="67.40" y1="529.20" x2="67.40" y2="459.50" stroke="#555" stroke-width="0.8"/>
<line x1="65.80" y1="528.80" x2="67.40" y2="528.80" stroke="#333" stroke-width="0.6"/>
<text x="65.50" y="529.95" font-size="3.25" font-family='"Liberation Sans", sans-serif' font-weight="bold" font-style="normal" text-anchor="end" fill="#1a1a1a" >0</text>
<line x1="65.80" y1="505.80" x2="67.40" y2="505.80" stroke="#333" stroke-width="0.6"/>
<text x="65.50" y="506.95" font-size="3.25" font-family='"Liberation Sans", sans-serif' font-weight="bold" font-style="normal" text-anchor="end" fill="#1a1a1a" >10</text>
<line x1="65.80" y1="482.80" x2="67.40" y2="482.80" stroke="#333" stroke-width="0.6"/>
<text x="65.50" y="483.95" font-size="3.25" font-family='"Liberation Sans", sans-serif' font-weight="bold" font-style="normal" text-anchor="end" fill="#1a1a1a" >20</text>
<line x1="65.80" y1="459.80" x2="67.40" y2="459.80" stroke="#333" stroke-width="0.6"/>
<text x="65.50" y="460.95" font-size="3.25" font-family='"Liberation Sans", sans-serif' font-weight="bold" font-style="normal" text-anchor="end" fill="#1a1a1a" >30</text>
<text x="59.60" y="493.90" font-size="5.9" font-family='"Liberation Sans", sans-serif' font-weight="bold" font-style="normal" text-anchor="middle" fill="#151515" textLength="67.20" lengthAdjust="spacingAndGlyphs" transform="rotate(-90 59.60 493.90)" >Latency to novel object (s)</text>
<line x1="208.95" y1="484.00" x2="208.95" y2="476.00" stroke="#555" stroke-width="0.55"/>
<line x1="207.55" y1="476.00" x2="210.35" y2="476.00" stroke="#555" stroke-width="0.55"/>
<line x1="223.15" y1="488.00" x2="223.15" y2="483.00" stroke="#555" stroke-width="0.55"/>
<line x1="221.75" y1="483.00" x2="224.55" y2="483.00" stroke="#555" stroke-width="0.55"/>
<line x1="237.35" y1="499.00" x2="237.35" y2="492.00" stroke="#555" stroke-width="0.55"/>
<line x1="235.95" y1="492.00" x2="238.75" y2="492.00" stroke="#555" stroke-width="0.55"/>
<line x1="251.65" y1="513.90" x2="251.65" y2="506.70" stroke="#555" stroke-width="0.55"/>
<line x1="250.25" y1="506.70" x2="253.05" y2="506.70" stroke="#555" stroke-width="0.55"/>
<line x1="265.25" y1="516.60" x2="265.25" y2="511.60" stroke="#555" stroke-width="0.55"/>
<line x1="263.85" y1="511.60" x2="266.65" y2="511.60" stroke="#555" stroke-width="0.55"/>
<line x1="279.55" y1="502.70" x2="279.55" y2="495.30" stroke="#555" stroke-width="0.55"/>
<line x1="278.15" y1="495.30" x2="280.95" y2="495.30" stroke="#555" stroke-width="0.55"/>
<rect x="204.80" y="484.50" width="8.30" height="44.30" fill="#ffffff" stroke="#333333" stroke-width="1.0"/>
<text x="208.95" y="534.30" font-size="3.8" font-family='"Liberation Sans", sans-serif' font-weight="bold" font-style="normal" text-anchor="middle" fill="#333" >C</text>
<rect x="219.00" y="488.50" width="8.30" height="40.30" fill="#d6d6d6" stroke="#333333" stroke-width="1.0"/>
<text x="223.15" y="534.30" font-size="3.8" font-family='"Liberation Sans", sans-serif' font-weight="bold" font-style="normal" text-anchor="middle" fill="#333" >C+T</text>
<rect x="233.20" y="499.50" width="8.30" height="29.30" fill="#46eeb0" stroke="#333333" stroke-width="1.0"/>
<text x="237.35" y="534.30" font-size="3.8" font-family='"Liberation Sans", sans-serif' font-weight="bold" font-style="normal" text-anchor="middle" fill="#333" >TDO</text>
<rect x="247.50" y="514.40" width="8.30" height="14.40" fill="#a706e2" stroke="#333333" stroke-width="1.0"/>
<text x="251.65" y="534.30" font-size="3.8" font-family='"Liberation Sans", sans-serif' font-weight="bold" font-style="normal" text-anchor="middle" fill="#333" >CA</text>
<rect x="261.10" y="517.10" width="8.30" height="11.70" fill="url(#hatch2)" stroke="#333333" stroke-width="1.0"/>
<text x="265.25" y="534.30" font-size="3.8" font-family='"Liberation Sans", sans-serif' font-weight="bold" font-style="normal" text-anchor="middle" fill="#333" >CA+T</text>
<rect x="275.40" y="503.20" width="8.30" height="25.60" fill="url(#stripe)" stroke="#333333" stroke-width="1.0"/>
<text x="279.55" y="534.30" font-size="3.8" font-family='"Liberation Sans", sans-serif' font-weight="bold" font-style="normal" text-anchor="middle" fill="#333" >CA+TDO</text>
<rect x="207.80" y="466.90" width="2.00" height="2.00" rx="0.8" fill="none" stroke="#a0a0a0" stroke-width="0.65"/>
<rect x="207.80" y="468.70" width="2.00" height="2.00" rx="0.8" fill="none" stroke="#a0a0a0" stroke-width="0.65"/>
<rect x="207.80" y="475.70" width="2.00" height="2.00" rx="0.8" fill="none" stroke="#a0a0a0" stroke-width="0.65"/>
<rect x="207.80" y="486.40" width="2.00" height="2.00" rx="0.8" fill="none" stroke="#a0a0a0" stroke-width="0.65"/>
<rect x="207.80" y="488.30" width="2.00" height="2.00" rx="0.8" fill="none" stroke="#a0a0a0" stroke-width="0.65"/>
<rect x="207.80" y="515.30" width="2.00" height="2.00" rx="0.8" fill="none" stroke="#a0a0a0" stroke-width="0.65"/>
<rect x="222.00" y="468.00" width="2.00" height="2.00" rx="0.7" fill="#808080"/>
<rect x="222.00" y="482.00" width="2.00" height="2.00" rx="0.7" fill="#808080"/>
<rect x="222.00" y="490.10" width="2.00" height="2.00" rx="0.7" fill="#555"/>
<rect x="222.00" y="495.30" width="2.00" height="2.00" rx="0.7" fill="#555"/>
<rect x="222.00" y="498.80" width="2.00" height="2.00" rx="0.7" fill="#555"/>
<rect x="236.30" y="460.30" width="2.00" height="2.00" rx="0.3" fill="#17a578"/>
<rect x="236.30" y="475.00" width="2.00" height="2.00" rx="0.3" fill="#17a578"/>
<rect x="236.30" y="478.50" width="2.00" height="2.00" rx="0.3" fill="#17a578"/>
<rect x="236.30" y="480.30" width="2.00" height="2.00" rx="0.3" fill="#17a578"/>
<rect x="236.30" y="491.10" width="2.00" height="2.00" rx="0.3" fill="#17a578"/>
<rect x="236.30" y="510.60" width="2.00" height="2.00" rx="0.3" fill="#128a62"/>
<rect x="233.00" y="526.40" width="2.00" height="2.00" rx="0.3" fill="#128a62"/>
<rect x="238.00" y="526.40" width="2.00" height="2.00" rx="0.3" fill="#128a62"/>
<rect x="251.50" y="478.10" width="2.00" height="2.00" rx="0.7" fill="#151515"/>
<rect x="251.50" y="479.50" width="2.00" height="2.00" rx="0.7" fill="#151515"/>
<rect x="249.00" y="503.20" width="2.00" height="2.00" rx="0.7" fill="#151515"/>
<rect x="251.00" y="516.20" width="2.00" height="2.00" rx="0.7" fill="#151515"/>
<rect x="251.00" y="517.40" width="2.00" height="2.00" rx="0.7" fill="#151515"/>
<rect x="246.50" y="524.60" width="2.00" height="2.00" rx="0.7" fill="#151515"/>
<rect x="264.40" y="494.60" width="2.00" height="2.00" rx="0.3" fill="#1a1a1a"/>
<rect x="268.50" y="493.40" width="2.00" height="2.00" rx="0.3" fill="#1a1a1a"/>
<rect x="264.40" y="523.20" width="2.00" height="2.00" rx="0.3" fill="#111"/>
<rect x="264.40" y="526.00" width="2.00" height="2.00" rx="0.3" fill="#111"/>
<rect x="278.60" y="473.60" width="2.00" height="2.00" rx="0.7" fill="#7a7a7a"/>
<rect x="278.60" y="477.10" width="2.00" height="2.00" rx="0.7" fill="#7a7a7a"/>
<rect x="282.50" y="478.10" width="2.00" height="2.00" rx="0.7" fill="#7a7a7a"/>
<rect x="278.60" y="491.10" width="2.00" height="2.00" rx="0.7" fill="#7a7a7a"/>
<rect x="278.60" y="507.80" width="2.00" height="2.00" rx="0.7" fill="#5a2a90"/>
<rect x="278.60" y="510.00" width="2.00" height="2.00" rx="0.7" fill="#5a2a90"/>
<rect x="278.60" y="516.90" width="2.00" height="2.00" rx="0.7" fill="#5a2a90"/>
<line x1="201.10" y1="528.80" x2="285.70" y2="528.80" stroke="#444" stroke-width="0.8"/>
<line x1="201.10" y1="529.20" x2="201.10" y2="460.10" stroke="#555" stroke-width="0.8"/>
<line x1="199.50" y1="528.80" x2="201.10" y2="528.80" stroke="#333" stroke-width="0.6"/>
<text x="199.20" y="529.95" font-size="3.25" font-family='"Liberation Sans", sans-serif' font-weight="bold" font-style="normal" text-anchor="end" fill="#1a1a1a" >0.0</text>
<line x1="199.50" y1="506.00" x2="201.10" y2="506.00" stroke="#333" stroke-width="0.6"/>
<text x="199.20" y="507.15" font-size="3.25" font-family='"Liberation Sans", sans-serif' font-weight="bold" font-style="normal" text-anchor="end" fill="#1a1a1a" >0.2</text>
<line x1="199.50" y1="483.20" x2="201.10" y2="483.20" stroke="#333" stroke-width="0.6"/>
<text x="199.20" y="484.35" font-size="3.25" font-family='"Liberation Sans", sans-serif' font-weight="bold" font-style="normal" text-anchor="end" fill="#1a1a1a" >0.4</text>
<line x1="199.50" y1="460.40" x2="201.10" y2="460.40" stroke="#333" stroke-width="0.6"/>
<text x="199.20" y="461.55" font-size="3.25" font-family='"Liberation Sans", sans-serif' font-weight="bold" font-style="normal" text-anchor="end" fill="#1a1a1a" >0.6</text>
<text x="192.20" y="493.70" font-size="5.9" font-family='"Liberation Sans", sans-serif' font-weight="bold" font-style="normal" text-anchor="middle" fill="#151515" textLength="59.80" lengthAdjust="spacingAndGlyphs" transform="rotate(-90 192.20 493.70)" >Discrimination Index (DI)</text>
</svg>
</body></html>
